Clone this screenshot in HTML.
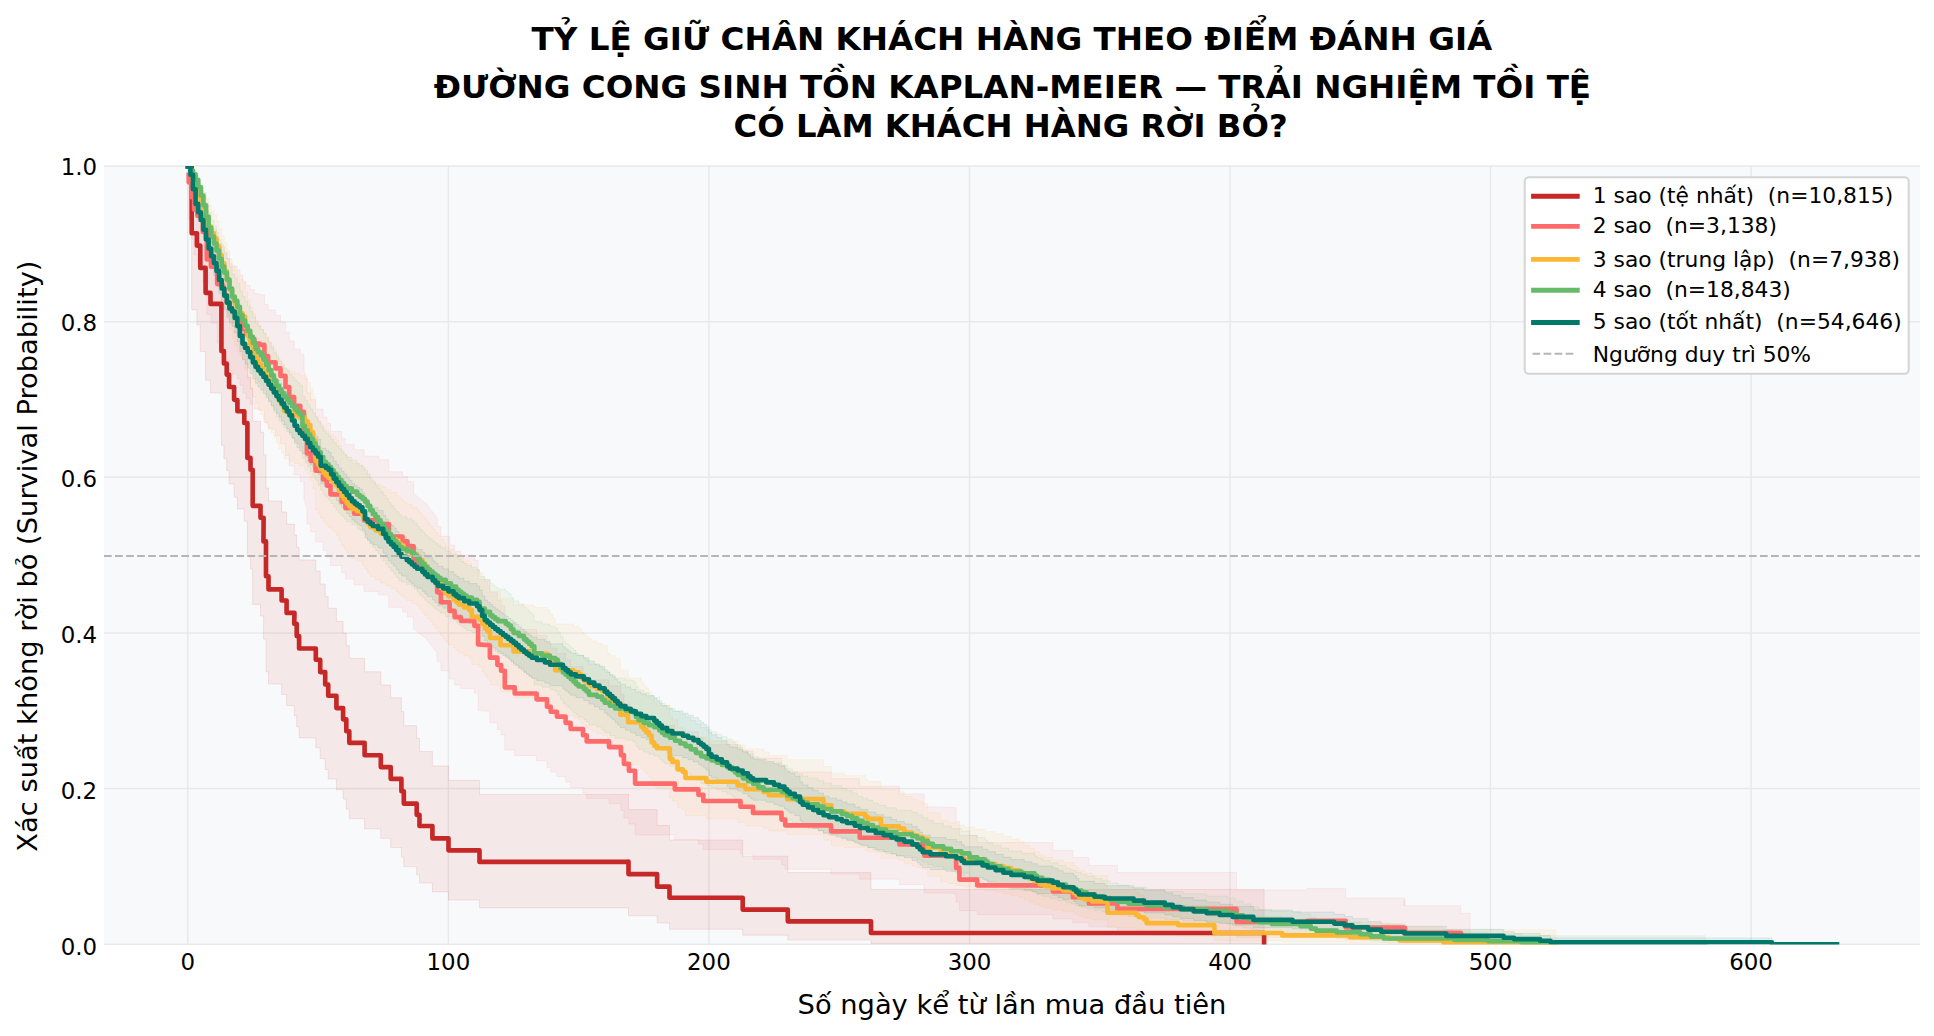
<!DOCTYPE html>
<html lang="vi"><head><meta charset="utf-8"><title>Kaplan-Meier</title>
<style>
html,body{margin:0;padding:0;background:#fff;}
svg{display:block}
text{font-family:"DejaVu Sans","Liberation Sans",sans-serif;fill:#000}
.t{font-weight:bold;text-anchor:middle}
.tk{font-size:22.9px}
.lg{font-size:21.8px;white-space:pre}
.al{font-size:27.3px;text-anchor:middle}
</style></head><body>
<svg width="1934" height="1036" viewBox="0 0 1934 1036">
<rect width="1934" height="1036" fill="#fff"/>
<rect x="104" y="166" width="1816" height="778.3" fill="#f8f9fa"/>
<path d="M187.8 166V944.3M448.4 166V944.3M708.9 166V944.3M969.5 166V944.3M1230.0 166V944.3M1490.5 166V944.3M1751.1 166V944.3M104 944.3H1920M104 788.6H1920M104 633.0H1920M104 477.3H1920M104 321.7H1920M104 166.0H1920" stroke="#e9e9ea" stroke-width="1.5" fill="none"/>
<clipPath id="cp"><rect x="104" y="166" width="1816" height="778.5999999999999"/></clipPath>
<g clip-path="url(#cp)">
<path d="M187.8 166.0L191.7 166.0L191.7 196.5L196.9 196.5L196.9 204.7L200.3 204.7L200.3 220.4L205.6 220.4L205.6 238.7L210.5 238.7L210.5 247.3L221.4 247.3L221.4 285.0L223.9 285.0L223.9 295.3L226.7 295.3L226.7 304.6L229.1 304.6L229.1 315.1L234.1 315.1L234.1 325.8L234.9 326.2L237.4 326.2L237.4 335.9L244.3 335.9L244.3 346.3L247.4 346.3L247.4 377.3L250.5 377.3L250.5 388.0L252.7 388.0L252.7 421.2L260.5 421.2L260.5 432.3L263.6 432.3L263.5 454.7L266.0 454.7L266.0 488.1L268.5 488.1L268.5 500.9L281.6 500.9L281.6 511.9L286.6 511.9L286.6 524.1L294.5 524.1L294.2 534.9L296.7 534.9L296.7 547.3L299.1 547.3L299.1 559.9L315.8 559.9L315.8 571.2L320.2 571.2L320.2 583.9L325.2 583.9L325.2 596.7L328.2 596.7L328.2 608.3L336.4 608.3L336.4 621.4L343.1 621.4L343.1 633.2L346.3 633.2L346.3 645.8L349.3 645.8L349.3 658.4L364.6 658.4L364.6 671.8L380.8 671.8L380.8 684.9L390.7 684.9L390.7 697.8L401.4 697.8L401.4 711.6L403.8 711.6L403.8 725.7L416.7 725.7L416.7 738.5L419.5 738.5L419.5 751.4L432.4 751.4L432.4 766.0L448.5 766.0L448.5 780.3L479.5 780.3L479.5 794.4L628.4 794.4L628.5 794.2L628.5 809.6L657.1 809.6L657.1 825.4L669.5 825.4L669.5 840.0L742.7 840.0L742.7 856.2L787.8 856.2L787.8 872.6L871.0 872.6L871.0 889.5L1264.1 889.6L1264.1 943.4L871.0 943.4L871.0 940.0L787.8 940.0L787.8 935.2L742.7 935.2L742.7 929.2L669.5 929.2L669.5 923.0L657.1 923.0L657.1 915.6L628.5 915.6L628.5 907.7L628.4 907.9L479.5 907.9L479.5 900.1L448.5 900.1L448.5 891.9L432.4 891.9L432.4 883.1L419.5 883.1L419.5 875.0L416.7 875.0L416.7 866.6L403.8 866.6L403.8 857.2L401.4 857.2L401.4 847.5L390.7 847.5L390.7 838.3L380.8 838.3L380.8 828.8L364.6 828.8L364.6 818.7L349.3 818.7L349.3 809.1L346.3 809.1L346.3 799.1L343.1 799.1L343.1 789.7L336.4 789.7L336.4 779.1L328.2 779.1L328.2 769.5L325.2 769.5L325.2 758.7L320.2 758.7L320.2 747.8L315.8 747.8L315.8 737.9L299.1 737.9L299.1 726.8L296.7 726.8L296.7 715.6L294.2 715.6L294.5 705.7L286.6 705.7L286.6 694.4L281.6 694.4L281.6 684.0L268.5 684.0L268.5 671.8L266.0 671.8L266.0 638.9L263.5 638.9L263.6 616.0L260.5 616.0L260.5 604.4L252.7 604.4L252.7 568.7L250.5 568.7L250.5 556.8L247.4 556.8L247.4 521.3L244.3 521.3L244.3 509.0L237.4 509.0L237.4 497.4L234.9 497.4L234.1 496.8L234.1 483.8L229.1 483.8L229.1 470.6L226.7 470.6L226.7 458.6L223.9 458.6L223.9 445.2L221.4 445.2L221.4 393.0L210.5 393.0L210.5 380.3L205.6 380.3L205.6 351.5L200.3 351.5L200.3 324.8L196.9 324.8L196.9 309.7L191.7 309.7L191.7 166.0L187.8 166.0Z" fill="#C62828" fill-opacity="0.08" stroke="#C62828" stroke-opacity="0.1" stroke-width="1"/>
<path d="M188.7 167.7L188.7 170.9L191.7 170.9L191.7 179.2L194.1 179.2L194.1 187.1L197.4 187.1L197.4 191.3L202.8 191.3L202.8 202.8L206.8 202.8L206.8 223.6L211.0 223.6L211.0 229.5L217.2 229.5L217.2 243.5L222.2 243.5L224.3 247.1L224.3 252.9L226.9 252.9L226.9 258.8L229.5 258.8L229.5 263.6L232.1 263.6L232.1 266.3L237.0 266.3L237.0 270.0L240.0 270.0L240.0 275.1L243.0 275.1L243.0 281.1L246.0 281.1L246.0 285.4L250.0 285.4L250.0 289.7L254.4 289.7L254.4 293.8L259.4 293.8L259.4 294.8L264.4 294.8L264.4 304.6L268.1 304.6L268.1 310.0L275.5 310.0L275.5 315.5L280.5 315.5L280.5 322.1L285.5 322.1L285.5 332.1L289.2 332.1L289.2 341.0L294.1 341.0L294.1 348.9L300.3 348.9L300.3 354.5L304.0 354.5L304.0 371.1L306.9 377.8L306.9 392.8L310.6 392.8L310.6 399.7L315.6 399.7L315.6 409.0L323.1 409.0L323.1 417.2L326.8 417.2L326.8 423.1L330.5 423.1L330.5 431.3L341.7 431.3L341.7 438.4L345.4 438.4L345.4 444.3L354.1 444.3L354.1 449.8L364.0 449.8L364.0 456.2L378.9 456.2L378.9 459.8L388.8 459.8L388.8 471.8L402.5 471.8L402.5 476.6L407.4 476.6L407.4 481.4L413.6 481.4L413.6 493.5L426.0 503.3L437.2 517.9L437.2 526.6L440.9 526.6L440.9 536.4L449.6 536.4L449.6 545.1L454.6 545.1L454.6 551.3L460.8 551.3L460.8 555.1L474.4 555.1L474.4 560.1L478.1 560.1L478.1 578.9L489.9 579.7L489.9 592.3L497.4 592.3L497.4 599.9L501.1 599.9L501.1 605.8L504.8 605.8L504.8 623.0L514.7 623.0L514.7 629.4L536.6 629.4L536.6 635.4L547.0 635.4L547.0 643.1L550.7 643.1L550.7 648.3L556.9 648.3L556.9 653.6L565.6 653.6L565.6 660.1L570.6 660.1L570.6 666.7L583.0 666.7L583.0 673.3L586.7 673.3L586.7 679.9L609.0 679.9L609.0 686.0L620.9 686.0L620.9 694.5L623.9 694.5L623.9 703.9L628.9 703.9L628.9 711.4L635.1 711.4L635.1 725.5L674.8 725.5L674.8 731.8L698.4 731.8L698.4 737.8L703.3 737.8L703.3 744.7L740.5 744.7L740.5 751.0L753.0 751.0L753.0 758.0L781.5 758.0L781.5 765.5L785.2 765.5L785.2 772.0L831.1 772.0L831.1 778.7L859.7 778.7L859.7 786.1L899.4 786.1L899.4 793.9L924.2 793.9L924.2 806.9L939.1 806.9L956.1 807.7L956.1 821.5L959.4 821.5L959.4 835.6L977.2 835.6L977.2 842.6L1052.9 842.6L1052.9 850.3L1072.8 850.3L1072.8 857.4L1088.9 857.4L1088.9 865.4L1117.4 865.4L1117.4 872.5L1236.5 872.5L1236.5 889.9L1307.2 889.9L1307.2 888.5L1345.7 888.5L1345.7 897.9L1404.0 897.9L1404.0 905.8L1405.0 898.4L1405.0 905.7L1460.8 905.7L1460.8 913.3L1470.0 913.3L1470.0 943.7L1460.8 943.7L1460.8 942.2L1405.0 942.2L1405.0 940.3L1404.0 942.3L1404.0 940.1L1345.7 940.1L1345.7 936.8L1307.2 936.8L1307.2 937.4L1236.5 937.4L1236.5 930.1L1117.4 930.1L1117.4 926.8L1088.9 926.8L1088.9 922.8L1072.8 922.8L1072.8 919.0L1052.9 919.0L1052.9 914.7L977.2 914.7L977.2 910.7L959.4 910.7L959.4 902.3L956.1 902.3L956.1 893.5L939.1 893.0L924.2 893.0L924.2 884.4L899.4 884.4L899.4 879.2L859.7 879.2L859.7 874.1L831.1 874.1L831.1 869.3L785.2 869.3L785.2 864.7L781.5 864.7L781.5 859.2L753.0 859.2L753.0 854.1L740.5 854.1L740.5 849.4L703.3 849.4L703.3 844.2L698.4 844.2L698.4 839.7L674.8 839.7L674.8 834.9L635.1 834.9L635.1 823.9L628.9 823.9L628.9 817.9L623.9 817.9L623.9 810.4L620.9 810.4L620.9 803.5L609.0 803.5L609.0 798.5L586.7 798.5L586.7 793.0L583.0 793.0L583.0 787.5L570.6 787.5L570.6 782.0L565.6 782.0L565.6 776.5L556.9 776.5L556.9 772.1L550.7 772.1L550.7 767.6L547.0 767.6L547.0 760.9L536.6 760.9L536.6 755.7L514.7 755.7L514.7 750.1L504.8 750.1L504.8 734.9L501.1 734.9L501.1 729.7L497.4 729.7L497.4 722.8L489.9 722.8L489.9 711.3L478.1 710.6L478.1 693.1L474.4 693.1L474.4 688.5L460.8 688.5L460.8 685.0L454.6 685.0L454.6 679.1L449.6 679.1L449.6 670.8L440.9 670.8L440.9 661.4L437.2 661.4L437.2 653.0L426.0 638.7L413.6 629.1L413.6 617.0L407.4 617.0L407.4 612.1L402.5 612.1L402.5 607.3L388.8 607.3L388.8 595.1L378.9 595.1L378.9 591.4L364.0 591.4L364.0 584.8L354.1 584.8L354.1 579.1L345.4 579.1L345.4 572.9L341.7 572.9L341.7 565.5L330.5 565.5L330.5 556.8L326.8 556.8L326.8 550.5L323.1 550.5L323.1 541.8L315.6 541.8L315.6 531.7L310.6 531.7L310.6 524.1L306.9 524.1L306.9 507.6L304.0 500.2L304.0 481.4L300.3 481.4L300.3 474.9L294.1 474.9L294.1 465.8L289.2 465.8L289.2 455.4L285.5 455.4L285.5 443.6L280.5 443.6L280.5 435.7L275.5 435.7L275.5 429.0L268.1 429.0L268.1 422.4L264.4 422.4L264.4 410.3L259.4 410.3L259.4 409.0L254.4 409.0L254.4 404.0L250.0 404.0L250.0 398.6L246.0 398.6L246.0 393.1L243.0 393.1L243.0 385.4L240.0 385.4L240.0 378.8L237.0 378.8L237.0 373.9L232.1 373.9L232.1 370.4L229.5 370.4L229.5 364.0L226.9 364.0L226.9 356.1L224.3 356.1L224.3 348.1L222.2 343.1L217.2 343.1L217.2 323.2L211.0 323.2L211.0 314.6L206.8 314.6L206.8 282.2L202.8 282.2L202.8 262.5L197.4 262.5L197.4 254.7L194.1 254.7L194.1 238.8L191.7 238.8L191.7 219.4L188.7 219.4L188.7 210.8Z" fill="#FF6B6B" fill-opacity="0.08" stroke="#FF6B6B" stroke-opacity="0.1" stroke-width="1"/>
<path d="M191.2 167.8L193.0 167.8L193.0 172.3L195.6 172.3L195.6 177.3L198.2 177.3L198.2 182.2L200.8 182.2L200.8 187.2L203.4 187.2L203.4 192.4L206.0 192.4L206.0 198.8L208.6 198.8L208.6 205.4L211.2 205.4L211.2 210.7L213.9 210.7L213.9 214.9L216.5 214.9L216.5 221.4L219.1 221.4L219.1 229.1L221.7 229.1L221.7 236.0L224.3 236.0L224.3 242.7L226.9 242.7L226.9 250.6L229.5 250.6L229.5 258.8L232.1 258.8L232.1 265.7L234.7 265.7L234.7 271.2L237.3 271.2L237.3 276.5L239.9 276.5L239.9 279.5L242.5 279.5L242.5 282.5L245.1 282.5L245.1 291.8L247.7 291.8L247.7 299.8L250.3 299.8L250.3 307.4L252.9 307.4L252.9 314.2L255.5 314.2L255.5 319.9L258.1 319.9L258.1 325.6L260.8 325.6L260.8 329.5L263.4 329.5L263.4 333.3L266.0 333.3L266.0 337.4L268.6 337.4L268.6 341.5L271.2 341.5L271.2 345.7L273.8 345.7L273.8 350.0L276.4 350.0L276.4 354.9L279.0 354.9L279.0 359.8L281.6 359.8L281.6 363.7L284.2 363.7L284.2 369.2L289.4 369.2L289.4 371.3L294.6 371.3L294.6 373.4L299.8 373.4L299.8 375.5L305.0 375.5L305.0 379.1L307.7 379.1L307.7 382.5L310.3 382.5L310.3 389.1L312.9 389.1L312.9 397.1L315.5 397.1L315.5 416.4L318.1 416.4L318.1 420.4L320.7 420.4L320.7 424.3L323.3 424.3L323.3 428.1L325.9 428.1L325.9 430.6L328.5 430.6L328.5 433.0L331.1 433.0L331.1 435.1L333.7 435.1L333.7 437.2L336.3 437.2L336.3 440.3L338.9 440.3L338.9 445.4L341.5 445.4L341.5 450.4L344.1 450.4L344.1 454.0L346.7 454.0L346.7 457.5L349.3 457.5L349.3 460.5L351.9 460.5L351.9 463.0L357.2 463.0L357.2 465.3L362.4 465.3L362.4 469.4L365.0 469.4L365.0 473.2L367.6 473.2L367.6 477.0L370.2 477.0L370.2 480.8L375.4 480.8L375.4 483.9L380.6 483.9L380.6 486.9L385.8 486.9L385.8 489.8L391.0 489.8L391.0 492.6L396.2 492.6L396.2 495.5L398.8 495.5L398.8 497.7L401.5 497.7L401.5 500.0L404.1 500.0L404.1 502.3L406.7 502.3L406.7 504.6L411.9 504.6L411.9 507.4L417.1 507.4L417.1 510.0L419.7 510.0L419.7 513.1L422.3 513.1L422.3 516.3L424.9 516.3L424.9 519.5L427.5 519.5L427.5 522.8L430.1 522.8L430.1 526.0L432.7 526.0L432.7 529.2L435.3 529.2L435.3 532.5L437.9 532.5L437.9 535.8L440.5 535.8L440.5 539.4L443.1 539.4L443.1 543.0L445.7 543.0L445.7 546.5L448.4 546.5L448.4 549.1L453.6 549.1L453.6 552.4L456.2 552.4L456.2 555.0L458.8 555.0L458.8 557.6L464.0 557.6L464.0 560.6L469.2 560.6L469.2 563.2L471.8 563.2L471.8 569.9L479.6 569.9L479.6 572.6L482.2 572.6L482.2 577.2L484.8 577.2L484.8 581.5L487.4 581.5L487.4 584.8L490.0 584.8L490.0 591.1L500.5 591.1L500.5 598.7L513.5 598.7L513.5 605.0L534.3 605.0L534.3 607.5L547.4 607.5L547.4 610.0L550.0 610.0L550.0 614.0L552.6 614.0L552.6 618.0L555.2 618.0L555.2 624.1L573.4 624.1L573.4 626.3L578.6 626.3L578.6 628.7L581.2 628.7L581.2 632.0L583.8 632.0L583.8 634.9L586.4 634.9L586.4 636.9L589.0 636.9L589.0 638.9L591.7 638.9L591.7 640.9L596.9 640.9L596.9 643.5L602.1 643.5L602.1 645.7L607.3 645.7L607.3 653.3L609.9 653.3L609.9 655.8L615.1 655.8L615.1 658.5L620.3 658.5L620.3 670.2L628.1 670.2L628.1 677.9L641.2 677.9L641.2 682.7L643.8 682.7L643.8 685.8L646.4 685.8L646.4 688.5L649.0 688.5L649.0 691.9L651.6 691.9L651.6 699.3L654.2 699.3L654.2 702.7L656.8 702.7L656.8 705.3L669.8 705.3L669.8 716.5L672.4 716.5L672.4 719.8L677.6 719.8L677.6 727.7L682.8 727.7L682.8 730.2L685.5 730.2L685.5 737.0L706.3 737.0L706.3 741.0L737.6 741.0L737.6 745.0L745.4 745.0L745.4 749.0L763.6 749.0L763.6 752.0L768.8 752.0L768.8 755.5L787.1 755.5L787.1 759.7L823.5 759.7L823.5 766.4L831.4 766.4L831.4 773.2L844.4 773.2L844.4 775.6L865.2 775.6L865.2 779.1L867.8 779.1L867.8 781.4L880.9 781.4L880.9 789.6L899.1 789.6L899.1 791.9L904.3 791.9L904.3 796.4L912.1 796.4L912.1 799.3L917.3 799.3L917.3 801.4L922.6 801.4L922.6 803.5L927.8 803.5L927.8 812.8L940.8 812.8L940.8 820.6L948.6 820.6L948.6 822.8L956.4 822.8L956.4 825.0L964.2 825.0L964.2 827.1L974.7 827.1L974.7 829.4L985.1 829.4L985.1 831.7L995.5 831.7L995.5 834.0L1003.3 834.0L1003.3 836.5L1011.1 836.5L1011.1 839.0L1019.0 839.0L1019.0 841.7L1024.2 841.7L1024.2 845.1L1029.4 845.1L1029.4 848.5L1034.6 848.5L1034.6 851.8L1039.8 851.8L1039.8 855.2L1045.0 855.2L1045.0 857.4L1052.8 857.4L1052.8 860.0L1063.2 860.0L1063.2 862.6L1073.7 862.6L1073.7 865.4L1076.3 865.4L1076.3 868.0L1078.9 868.0L1078.9 870.6L1084.1 870.6L1084.1 873.1L1091.9 873.1L1091.9 875.6L1107.5 875.6L1107.5 889.5L1136.2 889.5L1136.2 892.7L1138.8 892.7L1138.8 895.3L1144.0 895.3L1144.0 898.0L1146.6 898.0L1146.6 902.9L1177.9 902.9L1177.9 905.5L1214.4 905.5L1214.4 916.3L1282.1 916.3L1282.1 919.7L1349.9 919.7L1349.9 922.3L1388.9 922.3L1388.9 924.6L1399.4 924.6L1399.4 926.9L1443.7 926.9L1443.7 929.8L1555.8 929.8L1555.8 944.3L1443.7 944.3L1443.7 943.8L1399.4 943.8L1399.4 943.3L1388.9 943.3L1388.9 942.7L1349.9 942.7L1349.9 941.9L1282.1 941.9L1282.1 940.7L1214.4 940.7L1214.4 936.2L1177.9 936.2L1177.9 935.0L1146.6 935.0L1146.6 932.5L1144.0 932.5L1144.0 931.1L1138.8 931.1L1138.8 929.7L1136.2 929.7L1136.2 928.0L1107.5 928.0L1107.5 919.8L1091.9 919.8L1091.9 918.3L1084.1 918.3L1084.1 916.7L1078.9 916.7L1078.9 915.0L1076.3 915.0L1076.3 913.4L1073.7 913.4L1073.7 911.5L1063.2 911.5L1063.2 909.9L1052.8 909.9L1052.8 908.1L1045.0 908.1L1045.0 906.7L1039.8 906.7L1039.8 904.4L1034.6 904.4L1034.6 902.1L1029.4 902.1L1029.4 899.7L1024.2 899.7L1024.2 897.4L1019.0 897.4L1019.0 895.4L1011.1 895.4L1011.1 893.7L1003.3 893.7L1003.3 891.9L995.5 891.9L995.5 890.3L985.1 890.3L985.1 888.6L974.7 888.6L974.7 886.9L964.2 886.9L964.2 885.4L956.4 885.4L956.4 883.7L948.6 883.7L948.6 882.1L940.8 882.1L940.8 876.3L927.8 876.3L927.8 869.3L922.6 869.3L922.6 867.6L917.3 867.6L917.3 866.0L912.1 866.0L912.1 863.8L904.3 863.8L904.3 860.2L899.1 860.2L899.1 858.5L880.9 858.5L880.9 852.0L867.8 852.0L867.8 850.2L865.2 850.2L865.2 847.4L844.4 847.4L844.4 845.5L831.4 845.5L831.4 840.0L823.5 840.0L823.5 834.5L787.1 834.5L787.1 831.1L768.8 831.1L768.8 828.2L763.6 828.2L763.6 825.7L745.4 825.7L745.4 822.4L737.6 822.4L737.6 819.0L706.3 819.0L706.3 815.7L685.5 815.7L685.5 810.0L682.8 810.0L682.8 807.9L677.6 807.9L677.6 801.1L672.4 801.1L672.4 798.3L669.8 798.3L669.8 788.7L656.8 788.7L656.8 786.4L654.2 786.4L654.2 783.5L651.6 783.5L651.6 777.0L649.0 777.0L649.0 774.0L646.4 774.0L646.4 771.6L643.8 771.6L643.8 768.9L641.2 768.9L641.2 764.6L628.1 764.6L628.1 757.7L620.3 757.7L620.3 747.3L615.1 747.3L615.1 744.8L609.9 744.8L609.9 742.6L607.3 742.6L607.3 735.6L602.1 735.6L602.1 733.7L596.9 733.7L596.9 731.3L591.7 731.3L591.7 729.5L589.0 729.5L589.0 727.6L586.4 727.6L586.4 725.8L583.8 725.8L583.8 723.2L581.2 723.2L581.2 720.1L578.6 720.1L578.6 717.9L573.4 717.9L573.4 715.9L555.2 715.9L555.2 710.2L552.6 710.2L552.6 706.5L550.0 706.5L550.0 702.8L547.4 702.8L547.4 700.4L534.3 700.4L534.3 698.0L513.5 698.0L513.5 692.1L500.5 692.1L500.5 685.0L490.0 685.0L490.0 679.0L487.4 679.0L487.4 675.9L484.8 675.9L484.8 671.7L482.2 671.7L482.2 667.3L479.6 667.3L479.6 664.7L471.8 664.7L471.8 658.3L469.2 658.3L469.2 655.8L464.0 655.8L464.0 652.9L458.8 652.9L458.8 650.4L456.2 650.4L456.2 647.9L453.6 647.9L453.6 644.7L448.4 644.7L448.4 642.2L445.7 642.2L445.7 638.7L443.1 638.7L443.1 635.2L440.5 635.2L440.5 631.7L437.9 631.7L437.9 628.4L435.3 628.4L435.3 625.2L432.7 625.2L432.7 622.0L430.1 622.0L430.1 618.8L427.5 618.8L427.5 615.6L424.9 615.6L424.9 612.4L422.3 612.4L422.3 609.2L419.7 609.2L419.7 606.2L417.1 606.2L417.1 603.6L411.9 603.6L411.9 600.8L406.7 600.8L406.7 598.5L404.1 598.5L404.1 596.2L401.5 596.2L401.5 593.9L398.8 593.9L398.8 591.6L396.2 591.6L396.2 588.8L391.0 588.8L391.0 585.9L385.8 585.9L385.8 583.0L380.6 583.0L380.6 579.9L375.4 579.9L375.4 576.8L370.2 576.8L370.2 572.9L367.6 572.9L367.6 569.0L365.0 569.0L365.0 565.1L362.4 565.1L362.4 560.9L357.2 560.9L357.2 558.6L351.9 558.6L351.9 556.0L349.3 556.0L349.3 552.9L346.7 552.9L346.7 549.3L344.1 549.3L344.1 545.6L341.5 545.6L341.5 540.3L338.9 540.3L338.9 535.1L336.3 535.1L336.3 531.8L333.7 531.8L333.7 529.6L331.1 529.6L331.1 527.4L328.5 527.4L328.5 524.9L325.9 524.9L325.9 522.2L323.3 522.2L323.3 518.2L320.7 518.2L320.7 514.1L318.1 514.1L318.1 509.9L315.5 509.9L315.5 489.2L312.9 489.2L312.9 480.5L310.3 480.5L310.3 473.4L307.7 473.4L307.7 469.7L305.0 469.7L305.0 465.7L299.8 465.7L299.8 463.4L294.6 463.4L294.6 461.1L289.4 461.1L289.4 458.8L284.2 458.8L284.2 452.8L281.6 452.8L281.6 448.4L279.0 448.4L279.0 442.9L276.4 442.9L276.4 437.5L273.8 437.5L273.8 432.6L271.2 432.6L271.2 427.9L268.6 427.9L268.6 423.2L266.0 423.2L266.0 418.7L263.4 418.7L263.4 414.3L260.8 414.3L260.8 409.9L258.1 409.9L258.1 403.3L255.5 403.3L255.5 396.7L252.9 396.7L252.9 388.7L250.3 388.7L250.3 379.8L247.7 379.8L247.7 370.2L245.1 370.2L245.1 359.2L242.5 359.2L242.5 355.5L239.9 355.5L239.9 351.8L237.3 351.8L237.3 345.3L234.7 345.3L234.7 338.5L232.1 338.5L232.1 329.9L229.5 329.9L229.5 319.6L226.9 319.6L226.9 309.4L224.3 309.4L224.3 300.6L221.7 300.6L221.7 291.5L219.1 291.5L219.1 281.1L216.5 281.1L216.5 272.1L213.9 272.1L213.9 266.0L211.2 266.0L211.2 258.4L208.6 258.4L208.6 248.6L206.0 248.6L206.0 238.7L203.4 238.7L203.4 230.2L200.8 230.2L200.8 221.6L198.2 221.6L198.2 212.6L195.6 212.6L195.6 202.4L193.0 202.4L193.0 191.3L191.2 191.3Z" fill="#FBB733" fill-opacity="0.08" stroke="#FBB733" stroke-opacity="0.1" stroke-width="1"/>
<path d="M191.2 167.5L193.0 167.5L193.0 169.6L195.6 169.6L195.6 173.3L198.2 173.3L198.2 178.6L200.8 178.6L200.8 185.2L203.4 185.2L203.4 193.2L206.0 193.2L206.0 202.7L208.6 202.7L208.6 212.4L211.2 212.4L211.2 220.0L213.9 220.0L213.9 226.1L216.5 226.1L216.5 232.3L219.1 232.3L219.1 239.6L221.7 239.6L221.7 246.7L224.3 246.7L224.3 252.2L226.9 252.2L226.9 258.4L229.5 258.4L229.5 266.7L232.1 266.7L232.1 274.1L234.7 274.1L234.7 277.9L237.3 277.9L237.3 283.5L239.9 283.5L239.9 291.3L242.5 291.3L242.5 296.3L245.1 296.3L245.1 301.2L247.7 301.2L247.7 305.9L250.3 305.9L250.3 311.4L252.9 311.4L252.9 317.1L255.5 317.1L255.5 322.9L258.1 322.9L258.1 325.9L260.8 325.9L260.8 328.9L263.4 328.9L263.4 333.0L266.0 333.0L266.0 337.9L268.6 337.9L268.6 342.8L271.2 342.8L271.2 347.8L273.8 347.8L273.8 352.8L276.4 352.8L276.4 357.7L279.0 357.7L279.0 361.4L281.6 361.4L281.6 364.9L284.2 364.9L284.2 368.1L286.8 368.1L286.8 371.1L289.4 371.1L289.4 374.1L292.0 374.1L292.0 377.3L294.6 377.3L294.6 380.3L297.2 380.3L297.2 382.8L299.8 382.8L299.8 385.3L302.4 385.3L302.4 396.3L305.0 396.3L305.0 400.5L307.7 400.5L307.7 404.7L310.3 404.7L310.3 408.9L312.9 408.9L312.9 413.1L315.5 413.1L315.5 417.3L318.1 417.3L318.1 421.9L320.7 421.9L320.7 426.5L323.3 426.5L323.3 431.0L325.9 431.0L325.9 433.5L328.5 433.5L328.5 436.2L331.1 436.2L331.1 439.5L333.7 439.5L333.7 442.7L336.3 442.7L336.3 446.0L338.9 446.0L338.9 449.0L341.5 449.0L341.5 451.9L344.1 451.9L344.1 454.8L346.7 454.8L346.7 457.0L351.9 457.0L351.9 460.2L357.2 460.2L357.2 463.5L359.8 463.5L359.8 465.4L362.4 465.4L362.4 467.2L365.0 467.2L365.0 470.0L367.6 470.0L367.6 474.3L370.2 474.3L370.2 478.5L372.8 478.5L372.8 482.2L375.4 482.2L375.4 485.3L378.0 485.3L378.0 488.4L380.6 488.4L380.6 491.8L383.2 491.8L383.2 495.3L385.8 495.3L385.8 498.7L388.4 498.7L388.4 502.1L391.0 502.1L391.0 505.6L393.6 505.6L393.6 508.8L396.2 508.8L396.2 511.8L398.8 511.8L398.8 514.8L401.5 514.8L401.5 516.7L406.7 516.7L406.7 518.8L411.9 518.8L411.9 520.8L414.5 520.8L414.5 523.5L417.1 523.5L417.1 526.5L419.7 526.5L419.7 529.6L422.3 529.6L422.3 532.2L424.9 532.2L424.9 534.8L427.5 534.8L427.5 537.3L430.1 537.3L430.1 539.4L432.7 539.4L432.7 541.5L435.3 541.5L435.3 543.6L437.9 543.6L437.9 545.6L440.5 545.6L440.5 547.6L445.7 547.6L445.7 551.1L451.0 551.1L451.0 554.4L456.2 554.4L456.2 557.6L458.8 557.6L458.8 559.5L461.4 559.5L461.4 561.5L464.0 561.5L464.0 563.4L466.6 563.4L466.6 565.4L471.8 565.4L471.8 567.6L477.0 567.6L477.0 569.7L479.6 569.7L479.6 576.4L484.8 576.4L484.8 579.7L490.0 579.7L490.0 583.2L492.6 583.2L492.6 585.1L495.2 585.1L495.2 587.1L497.9 587.1L497.9 589.1L505.7 589.1L505.7 591.6L508.3 591.6L508.3 593.6L510.9 593.6L510.9 597.3L513.5 597.3L513.5 600.9L518.7 600.9L518.7 603.9L523.9 603.9L523.9 607.5L526.5 607.5L526.5 609.8L529.1 609.8L529.1 612.1L531.7 612.1L531.7 614.4L534.3 614.4L534.3 621.7L542.1 621.7L542.1 624.0L550.0 624.0L550.0 626.4L555.2 626.4L555.2 628.4L557.8 628.4L557.8 632.2L560.4 632.2L560.4 636.7L563.0 636.7L563.0 641.1L565.6 641.1L565.6 643.4L568.2 643.4L568.2 645.7L570.8 645.7L570.8 648.0L573.4 648.0L573.4 650.5L576.0 650.5L576.0 653.2L578.6 653.2L578.6 655.5L583.8 655.5L583.8 658.2L586.4 658.2L586.4 660.4L589.0 660.4L589.0 664.0L596.9 664.0L596.9 665.8L602.1 665.8L602.1 669.1L604.7 669.1L604.7 672.1L609.9 672.1L609.9 675.2L615.1 675.2L615.1 678.1L625.5 678.1L625.5 680.0L633.3 680.0L633.3 682.1L635.9 682.1L635.9 686.8L638.6 686.8L638.6 690.1L643.8 690.1L643.8 692.8L649.0 692.8L649.0 695.3L654.2 695.3L654.2 697.4L659.4 697.4L659.4 700.7L662.0 700.7L662.0 703.4L664.6 703.4L664.6 705.6L669.8 705.6L669.8 708.3L675.0 708.3L675.0 711.4L680.2 711.4L680.2 714.3L685.5 714.3L685.5 717.0L690.7 717.0L690.7 720.4L695.9 720.4L695.9 724.0L701.1 724.0L701.1 727.6L706.3 727.6L706.3 729.7L711.5 729.7L711.5 731.8L716.7 731.8L716.7 734.2L721.9 734.2L721.9 736.6L727.1 736.6L727.1 739.1L732.3 739.1L732.3 741.8L735.0 741.8L735.0 744.6L737.6 744.6L737.6 747.0L742.8 747.0L742.8 750.7L748.0 750.7L748.0 753.7L753.2 753.7L753.2 756.7L758.4 756.7L758.4 760.3L763.6 760.3L763.6 762.9L781.9 762.9L781.9 765.1L787.1 765.1L787.1 768.7L792.3 768.7L792.3 771.6L797.5 771.6L797.5 773.9L802.7 773.9L802.7 776.3L807.9 776.3L807.9 778.3L818.3 778.3L818.3 780.5L823.5 780.5L823.5 783.2L831.4 783.2L831.4 785.6L841.8 785.6L841.8 788.5L847.0 788.5L847.0 790.6L852.2 790.6L852.2 793.2L857.4 793.2L857.4 796.0L862.6 796.0L862.6 798.2L867.8 798.2L867.8 800.3L873.0 800.3L873.0 803.0L878.3 803.0L878.3 805.3L886.1 805.3L886.1 807.8L896.5 807.8L896.5 810.3L912.1 810.3L912.1 812.4L917.3 812.4L917.3 814.8L922.6 814.8L922.6 817.7L927.8 817.7L927.8 820.5L933.0 820.5L933.0 823.3L943.4 823.3L943.4 826.1L951.2 826.1L951.2 828.6L961.6 828.6L961.6 831.1L969.5 831.1L969.5 835.3L977.3 835.3L977.3 837.4L985.1 837.4L985.1 840.0L987.7 840.0L987.7 842.8L992.9 842.8L992.9 845.2L1000.7 845.2L1000.7 848.1L1008.5 848.1L1008.5 851.0L1021.6 851.0L1021.6 853.1L1034.6 853.1L1034.6 855.9L1037.2 855.9L1037.2 858.0L1042.4 858.0L1042.4 860.2L1050.2 860.2L1050.2 862.8L1058.0 862.8L1058.0 865.4L1065.9 865.4L1065.9 868.2L1071.1 868.2L1071.1 870.3L1076.3 870.3L1076.3 872.4L1081.5 872.4L1081.5 874.4L1086.7 874.4L1086.7 876.5L1094.5 876.5L1094.5 878.7L1102.3 878.7L1102.3 880.8L1110.1 880.8L1110.1 882.9L1118.0 882.9L1118.0 885.0L1128.4 885.0L1128.4 887.2L1146.6 887.2L1146.6 889.3L1164.9 889.3L1164.9 891.5L1183.1 891.5L1183.1 893.8L1206.6 893.8L1206.6 896.0L1227.4 896.0L1227.4 898.2L1235.2 898.2L1235.2 901.0L1243.0 901.0L1243.0 903.9L1250.8 903.9L1250.8 906.8L1258.7 906.8L1258.7 909.3L1271.7 909.3L1271.7 911.5L1300.3 911.5L1300.3 914.0L1310.8 914.0L1310.8 917.2L1316.0 917.2L1316.0 919.7L1336.8 919.7L1336.8 922.1L1360.3 922.1L1360.3 924.5L1370.7 924.5L1370.7 927.2L1383.7 927.2L1383.7 930.2L1454.1 930.2L1454.1 932.1L1487.9 932.1L1487.9 933.9L1521.8 933.9L1521.8 935.8L1705.0 935.8L1705.0 944.0L1521.8 944.0L1521.8 943.6L1487.9 943.6L1487.9 943.0L1454.1 943.0L1454.1 942.3L1383.7 942.3L1383.7 941.1L1370.7 941.1L1370.7 939.8L1360.3 939.8L1360.3 938.6L1336.8 938.6L1336.8 937.3L1316.0 937.3L1316.0 936.0L1310.8 936.0L1310.8 934.2L1300.3 934.2L1300.3 932.7L1271.7 932.7L1271.7 931.3L1258.7 931.3L1258.7 929.7L1250.8 929.7L1250.8 927.9L1243.0 927.9L1243.0 926.0L1235.2 926.0L1235.2 924.1L1227.4 924.1L1227.4 922.6L1206.6 922.6L1206.6 921.1L1183.1 921.1L1183.1 919.5L1164.9 919.5L1164.9 918.0L1146.6 918.0L1146.6 916.5L1128.4 916.5L1128.4 914.9L1118.0 914.9L1118.0 913.4L1110.1 913.4L1110.1 911.9L1102.3 911.9L1102.3 910.3L1094.5 910.3L1094.5 908.7L1086.7 908.7L1086.7 907.2L1081.5 907.2L1081.5 905.6L1076.3 905.6L1076.3 904.1L1071.1 904.1L1071.1 902.5L1065.9 902.5L1065.9 900.4L1058.0 900.4L1058.0 898.4L1050.2 898.4L1050.2 896.3L1042.4 896.3L1042.4 894.7L1037.2 894.7L1037.2 893.0L1034.6 893.0L1034.6 890.8L1021.6 890.8L1021.6 889.2L1008.5 889.2L1008.5 886.9L1000.7 886.9L1000.7 884.6L992.9 884.6L992.9 882.7L987.7 882.7L987.7 880.4L985.1 880.4L985.1 878.3L977.3 878.3L977.3 876.6L969.5 876.6L969.5 873.2L961.6 873.2L961.6 871.1L951.2 871.1L951.2 869.1L943.4 869.1L943.4 866.8L933.0 866.8L933.0 864.5L927.8 864.5L927.8 862.1L922.6 862.1L922.6 859.8L917.3 859.8L917.3 857.7L912.1 857.7L912.1 855.9L896.5 855.9L896.5 853.8L886.1 853.8L886.1 851.7L878.3 851.7L878.3 849.8L873.0 849.8L873.0 847.5L867.8 847.5L867.8 845.7L862.6 845.7L862.6 843.8L857.4 843.8L857.4 841.4L852.2 841.4L852.2 839.2L847.0 839.2L847.0 837.4L841.8 837.4L841.8 835.0L831.4 835.0L831.4 832.8L823.5 832.8L823.5 830.5L818.3 830.5L818.3 828.6L807.9 828.6L807.9 826.9L802.7 826.9L802.7 824.8L797.5 824.8L797.5 822.7L792.3 822.7L792.3 820.3L787.1 820.3L787.1 817.0L781.9 817.0L781.9 815.1L763.6 815.1L763.6 812.9L758.4 812.9L758.4 809.7L753.2 809.7L753.2 807.0L748.0 807.0L748.0 804.3L742.8 804.3L742.8 801.1L737.6 801.1L737.6 798.9L735.0 798.9L735.0 796.4L732.3 796.4L732.3 794.0L727.1 794.0L727.1 791.8L721.9 791.8L721.9 789.6L716.7 789.6L716.7 787.5L711.5 787.5L711.5 785.6L706.3 785.6L706.3 783.7L701.1 783.7L701.1 780.4L695.9 780.4L695.9 777.1L690.7 777.1L690.7 774.1L685.5 774.1L685.5 771.6L680.2 771.6L680.2 769.0L675.0 769.0L675.0 766.1L669.8 766.1L669.8 763.6L664.6 763.6L664.6 761.7L662.0 761.7L662.0 759.2L659.4 759.2L659.4 756.1L654.2 756.1L654.2 754.2L649.0 754.2L649.0 751.9L643.8 751.9L643.8 749.5L638.6 749.5L638.6 746.4L635.9 746.4L635.9 742.0L633.3 742.0L633.3 740.1L625.5 740.1L625.5 738.3L615.1 738.3L615.1 735.6L609.9 735.6L609.9 732.7L604.7 732.7L604.7 729.9L602.1 729.9L602.1 726.8L596.9 726.8L596.9 725.1L589.0 725.1L589.0 721.8L586.4 721.8L586.4 719.7L583.8 719.7L583.8 717.2L578.6 717.2L578.6 715.0L576.0 715.0L576.0 712.5L573.4 712.5L573.4 710.1L570.8 710.1L570.8 707.9L568.2 707.9L568.2 705.8L565.6 705.8L565.6 703.5L563.0 703.5L563.0 699.3L560.4 699.3L560.4 695.1L557.8 695.1L557.8 691.5L555.2 691.5L555.2 689.6L550.0 689.6L550.0 687.3L542.1 687.3L542.1 685.0L534.3 685.0L534.3 678.1L531.7 678.1L531.7 675.9L529.1 675.9L529.1 673.7L526.5 673.7L526.5 671.4L523.9 671.4L523.9 668.0L518.7 668.0L518.7 665.1L513.5 665.1L513.5 661.6L510.9 661.6L510.9 658.0L508.3 658.0L508.3 656.1L505.7 656.1L505.7 653.6L497.9 653.6L497.9 651.7L495.2 651.7L495.2 649.8L492.6 649.8L492.6 647.9L490.0 647.9L490.0 644.5L484.8 644.5L484.8 641.3L479.6 641.3L479.6 634.7L477.0 634.7L477.0 632.7L471.8 632.7L471.8 630.5L466.6 630.5L466.6 628.6L464.0 628.6L464.0 626.7L461.4 626.7L461.4 624.7L458.8 624.7L458.8 622.9L456.2 622.9L456.2 619.7L451.0 619.7L451.0 616.4L445.7 616.4L445.7 613.0L440.5 613.0L440.5 611.1L437.9 611.1L437.9 609.0L435.3 609.0L435.3 606.9L432.7 606.9L432.7 604.9L430.1 604.9L430.1 602.8L427.5 602.8L427.5 600.3L424.9 600.3L424.9 597.7L422.3 597.7L422.3 595.1L419.7 595.1L419.7 592.1L417.1 592.1L417.1 589.1L414.5 589.1L414.5 586.4L411.9 586.4L411.9 584.3L406.7 584.3L406.7 582.2L401.5 582.2L401.5 580.4L398.8 580.4L398.8 577.4L396.2 577.4L396.2 574.3L393.6 574.3L393.6 571.1L391.0 571.1L391.0 567.6L388.4 567.6L388.4 564.1L385.8 564.1L385.8 560.6L383.2 560.6L383.2 557.2L380.6 557.2L380.6 553.7L378.0 553.7L378.0 550.5L375.4 550.5L375.4 547.4L372.8 547.4L372.8 543.7L370.2 543.7L370.2 539.3L367.6 539.3L367.6 534.9L365.0 534.9L365.0 532.1L362.4 532.1L362.4 530.2L359.8 530.2L359.8 528.3L357.2 528.3L357.2 524.9L351.9 524.9L351.9 521.6L346.7 521.6L346.7 519.3L344.1 519.3L344.1 516.3L341.5 516.3L341.5 513.3L338.9 513.3L338.9 510.3L336.3 510.3L336.3 506.9L333.7 506.9L333.7 503.5L331.1 503.5L331.1 500.1L328.5 500.1L328.5 497.3L325.9 497.3L325.9 494.6L323.3 494.6L323.3 490.0L320.7 490.0L320.7 485.2L318.1 485.2L318.1 480.3L315.5 480.3L315.5 475.9L312.9 475.9L312.9 471.5L310.3 471.5L310.3 467.0L307.7 467.0L307.7 462.6L305.0 462.6L305.0 458.2L302.4 458.2L302.4 446.5L299.8 446.5L299.8 443.8L297.2 443.8L297.2 441.1L294.6 441.1L294.6 437.9L292.0 437.9L292.0 434.6L289.4 434.6L289.4 431.3L286.8 431.3L286.8 428.1L284.2 428.1L284.2 424.6L281.6 424.6L281.6 420.8L279.0 420.8L279.0 416.9L276.4 416.9L276.4 411.5L273.8 411.5L273.8 406.1L271.2 406.1L271.2 400.6L268.6 400.6L268.6 395.2L266.0 395.2L266.0 389.8L263.4 389.8L263.4 385.2L260.8 385.2L260.8 382.0L258.1 382.0L258.1 378.6L255.5 378.6L255.5 372.2L252.9 372.2L252.9 365.9L250.3 365.9L250.3 359.7L247.7 359.7L247.7 354.3L245.1 354.3L245.1 348.8L242.5 348.8L242.5 343.1L239.9 343.1L239.9 334.2L237.3 334.2L237.3 327.7L234.7 327.7L234.7 323.3L232.1 323.3L232.1 314.7L229.5 314.7L229.5 305.0L226.9 305.0L226.9 297.6L224.3 297.6L224.3 291.0L221.7 291.0L221.7 282.4L219.1 282.4L219.1 273.4L216.5 273.4L216.5 265.7L213.9 265.7L213.9 258.0L211.2 258.0L211.2 248.3L208.6 248.3L208.6 235.5L206.0 235.5L206.0 222.5L203.4 222.5L203.4 211.0L200.8 211.0L200.8 200.7L198.2 200.7L198.2 191.7L195.6 191.7L195.6 184.5L193.0 184.5L193.0 179.6L191.2 179.6Z" fill="#66BB6A" fill-opacity="0.08" stroke="#66BB6A" stroke-opacity="0.1" stroke-width="1"/>
<path d="M187.8 166.0L190.4 166.0L190.4 171.6L193.0 171.6L193.0 183.7L195.6 183.7L195.6 196.8L198.2 196.8L198.2 204.3L200.8 204.3L200.8 211.5L203.4 211.5L203.4 220.4L206.0 220.4L206.0 229.5L208.6 229.5L208.6 238.1L211.2 238.1L211.2 245.2L213.9 245.2L213.9 251.6L216.5 251.6L216.5 259.1L219.1 259.1L219.1 267.8L221.7 267.8L221.7 275.8L224.3 275.8L224.3 282.6L226.9 282.6L226.9 289.4L229.5 289.4L229.5 294.9L232.1 294.9L232.1 297.9L234.7 297.9L234.7 304.1L237.3 304.1L237.3 312.0L239.9 312.0L239.9 321.4L242.5 321.4L242.5 328.9L245.1 328.9L245.1 333.1L247.7 333.1L247.7 337.0L250.3 337.0L250.3 342.0L252.9 342.0L252.9 347.1L255.5 347.1L255.5 351.4L258.1 351.4L258.1 354.8L260.8 354.8L260.8 357.9L263.4 357.9L263.4 361.2L266.0 361.2L266.0 365.0L268.6 365.0L268.6 368.8L271.2 368.8L271.2 372.6L273.8 372.6L273.8 376.3L276.4 376.3L276.4 379.9L279.0 379.9L279.0 383.5L281.6 383.5L281.6 387.3L284.2 387.3L284.2 391.1L286.8 391.1L286.8 394.9L289.4 394.9L289.4 398.8L292.0 398.8L292.0 403.8L294.6 403.8L294.6 408.9L297.2 408.9L297.2 413.2L299.8 413.2L299.8 416.3L302.4 416.3L302.4 418.9L305.0 418.9L305.0 421.8L307.7 421.8L307.7 426.0L310.3 426.0L310.3 430.1L312.9 430.1L312.9 433.2L315.5 433.2L315.5 436.2L318.1 436.2L318.1 439.5L320.7 439.5L320.7 448.3L325.9 448.3L325.9 450.5L328.5 450.5L328.5 452.3L331.1 452.3L331.1 456.8L333.7 456.8L333.7 461.0L336.3 461.0L336.3 464.7L338.9 464.6L338.9 468.2L341.5 468.2L341.5 471.3L344.1 471.2L344.1 474.2L346.7 474.2L346.7 477.2L349.3 477.2L349.3 480.3L351.9 480.3L351.9 483.4L354.6 483.3L354.6 485.6L357.2 485.5L357.2 487.4L359.8 487.3L359.8 489.2L362.4 489.2L362.4 493.1L365.0 493.1L365.0 500.8L367.6 500.8L367.6 503.4L370.2 503.3L370.2 505.5L372.8 505.5L372.8 507.6L378.0 507.5L378.0 510.5L383.2 510.4L383.2 515.3L385.8 515.3L385.8 519.4L388.4 519.4L388.4 523.0L391.0 523.0L391.0 525.6L393.6 525.5L393.6 528.1L396.2 528.1L396.2 531.3L398.8 531.3L398.8 535.2L401.5 535.1L401.5 537.8L406.7 537.7L406.7 541.2L409.3 541.1L409.3 543.2L411.9 543.2L411.9 545.4L414.5 545.4L414.5 547.6L417.1 547.6L417.1 549.5L422.3 549.5L422.3 552.6L424.9 552.6L424.9 555.2L427.5 555.1L427.5 557.6L432.7 557.6L432.7 561.0L435.3 561.0L435.3 563.3L437.9 563.3L437.9 566.4L443.1 566.3L443.1 568.9L448.4 568.8L448.4 571.7L453.6 571.6L453.6 574.7L456.2 574.6L456.2 576.6L458.8 576.5L458.8 578.4L464.0 578.3L464.0 581.3L469.2 581.2L469.2 583.6L477.0 583.5L477.0 586.2L479.6 586.1L479.6 590.0L482.2 590.0L482.2 595.9L484.8 595.8L484.8 600.1L487.4 600.1L487.4 602.4L490.0 602.3L490.0 604.6L492.6 604.6L492.6 606.9L495.2 606.8L495.2 608.9L497.9 608.9L497.9 610.8L500.5 610.8L500.5 612.8L503.1 612.7L503.1 614.7L505.7 614.6L505.7 616.6L508.3 616.6L508.3 618.5L510.9 618.5L510.9 620.5L513.5 620.4L513.5 622.4L516.1 622.3L516.1 624.6L518.7 624.6L518.7 626.9L521.3 626.8L521.3 629.2L523.9 629.1L523.9 631.3L526.5 631.3L526.5 633.3L529.1 633.2L529.1 635.2L531.7 635.1L531.7 637.1L536.9 637.0L536.9 639.3L544.8 639.2L544.8 641.5L550.0 641.4L550.0 643.9L563.0 643.6L563.0 646.9L565.6 646.9L565.6 649.0L568.2 648.9L568.2 651.0L570.8 651.0L570.8 653.1L576.0 653.0L576.0 655.2L583.8 655.0L583.8 657.9L589.0 657.8L589.0 661.1L594.3 661.0L594.3 664.1L599.5 664.0L599.5 666.7L604.7 666.5L604.7 669.9L607.3 669.9L607.3 672.2L609.9 672.1L609.9 674.5L612.5 674.4L612.5 676.7L615.1 676.7L615.1 679.3L617.7 679.2L617.7 681.9L620.3 681.8L620.3 684.4L625.5 684.3L625.5 686.9L630.7 686.8L630.7 689.5L635.9 689.3L635.9 692.0L641.2 691.9L641.2 694.1L646.4 693.9L646.4 695.9L654.2 695.7L654.2 698.4L656.8 698.3L656.8 700.9L659.4 700.8L659.4 703.3L662.0 703.2L662.0 705.8L667.2 705.6L667.2 708.8L672.4 708.5L672.4 710.9L682.8 710.9L682.8 713.2L688.1 713.2L688.1 715.2L693.3 715.2L693.3 717.7L698.5 717.7L698.5 720.4L701.1 720.4L701.1 722.3L703.7 722.3L703.7 724.5L706.3 724.5L706.3 726.8L708.9 726.8L708.9 732.3L711.5 732.3L711.5 734.8L716.7 734.8L716.7 737.5L721.9 737.5L721.9 740.7L727.1 740.7L727.1 744.4L729.7 744.4L729.7 747.1L737.6 747.1L737.6 749.1L742.8 749.1L742.8 752.0L748.0 752.0L748.0 755.3L750.6 755.3L750.6 757.3L753.2 757.3L753.2 759.2L766.2 759.2L766.2 761.5L774.0 761.5L774.0 763.9L779.2 763.9L779.2 766.0L784.5 766.0L784.5 768.9L787.1 768.9L787.1 771.1L789.7 771.1L789.7 773.4L794.9 773.4L794.9 776.3L800.1 776.3L800.1 782.1L802.7 782.1L802.7 784.9L807.9 784.9L807.9 787.7L813.1 787.7L813.1 790.4L818.3 790.4L818.3 793.1L823.5 793.1L823.5 795.9L828.8 795.9L828.8 797.9L836.6 797.9L836.6 800.1L841.8 800.1L841.8 802.1L847.0 802.1L847.0 804.1L854.8 804.1L854.8 807.0L860.0 807.0L860.0 809.4L867.8 809.4L867.8 812.1L875.7 812.1L875.7 814.7L883.5 814.7L883.5 817.0L891.3 817.0L891.3 819.5L896.5 819.5L896.5 821.6L904.3 821.6L904.3 823.9L912.1 823.9L912.1 826.7L917.3 826.7L917.3 829.5L919.9 829.5L919.9 832.3L922.6 832.3L922.6 835.1L930.4 835.1L930.4 837.5L946.0 837.5L946.0 839.5L956.4 839.5L956.4 841.7L961.6 841.7L961.6 844.6L964.2 844.6L964.2 846.8L982.5 846.8L982.5 849.4L987.7 849.4L987.7 851.7L995.5 851.7L995.5 854.5L1003.3 854.5L1003.3 857.3L1011.1 857.3L1011.1 859.6L1024.2 859.6L1024.2 861.8L1032.0 861.8L1032.0 863.8L1037.2 863.8L1037.2 866.0L1052.8 866.0L1052.8 868.2L1058.0 868.2L1058.0 870.7L1063.2 870.7L1063.2 873.2L1073.7 873.2L1073.7 875.7L1076.3 875.7L1076.3 878.4L1078.9 878.4L1078.9 881.3L1094.5 881.3L1094.5 883.6L1104.9 883.6L1104.9 885.7L1133.6 885.7L1133.6 888.0L1144.0 888.0L1144.0 890.3L1164.9 890.3L1164.9 892.8L1172.7 892.8L1172.7 895.4L1180.5 895.4L1180.5 897.6L1193.5 897.6L1193.5 900.1L1206.6 900.1L1206.6 902.2L1219.6 902.2L1219.6 904.3L1232.6 904.3L1232.6 906.5L1253.4 906.5L1253.4 910.0L1292.5 910.0L1292.5 912.1L1334.2 912.1L1334.2 914.3L1344.6 914.3L1344.6 916.5L1352.5 916.5L1352.5 918.7L1368.1 918.7L1368.1 921.4L1381.1 921.4L1381.1 924.0L1404.6 924.0L1404.6 926.3L1446.3 926.3L1446.3 929.3L1503.6 929.3L1503.6 931.7L1514.0 931.7L1514.0 933.5L1540.1 933.5L1540.1 935.6L1550.5 935.6L1550.5 937.9L1771.9 937.9L1771.9 944.3L1837.0 944.3L1837.0 944.3L1771.9 944.3L1771.9 943.8L1550.5 943.8L1550.5 943.0L1540.1 943.0L1540.1 942.1L1514.0 942.1L1514.0 941.2L1503.6 941.2L1503.6 940.0L1446.3 940.0L1446.3 938.3L1404.6 938.3L1404.6 936.9L1381.1 936.9L1381.1 935.3L1368.1 935.3L1368.1 933.5L1352.5 933.5L1352.5 932.1L1344.6 932.1L1344.6 930.6L1334.2 930.6L1334.2 929.1L1292.5 929.1L1292.5 927.6L1253.4 927.6L1253.4 925.1L1232.6 925.1L1232.6 923.5L1219.6 923.5L1219.6 922.0L1206.6 922.0L1206.6 920.4L1193.5 920.4L1193.5 918.5L1180.5 918.5L1180.5 916.9L1172.7 916.9L1172.7 914.9L1164.9 914.9L1164.9 912.9L1144.0 912.9L1144.0 911.2L1133.6 911.2L1133.6 909.4L1104.9 909.4L1104.9 907.8L1094.5 907.8L1094.5 905.9L1078.9 905.9L1078.9 903.6L1076.3 903.6L1076.3 901.5L1073.7 901.5L1073.7 899.4L1063.2 899.4L1063.2 897.4L1058.0 897.4L1058.0 895.3L1052.8 895.3L1052.8 893.5L1037.2 893.5L1037.2 891.8L1032.0 891.8L1032.0 890.1L1024.2 890.1L1024.2 888.3L1011.1 888.3L1011.1 886.3L1003.3 886.3L1003.3 884.0L995.5 884.0L995.5 881.7L987.7 881.7L987.7 879.8L982.5 879.8L982.5 877.5L964.2 877.5L964.2 875.7L961.6 875.7L961.6 873.2L956.4 873.2L956.4 871.3L946.0 871.3L946.0 869.6L930.4 869.6L930.4 867.6L922.6 867.6L922.6 865.2L919.9 865.2L919.9 862.8L917.3 862.8L917.3 860.4L912.1 860.4L912.1 857.9L904.3 857.9L904.3 855.9L896.5 855.9L896.5 854.1L891.3 854.1L891.3 851.9L883.5 851.9L883.5 849.9L875.7 849.9L875.7 847.6L867.8 847.6L867.8 845.2L860.0 845.2L860.0 843.1L854.8 843.1L854.8 840.6L847.0 840.6L847.0 838.8L841.8 838.8L841.8 837.0L836.6 837.0L836.6 835.1L828.8 835.1L828.8 833.3L823.5 833.3L823.5 830.8L818.3 830.8L818.3 828.4L813.1 828.4L813.1 825.9L807.9 825.9L807.9 823.5L802.7 823.5L802.7 820.9L800.1 820.9L800.1 815.7L794.9 815.7L794.9 813.1L789.7 813.1L789.7 811.0L787.1 811.0L787.1 809.0L784.5 809.0L784.5 806.3L779.2 806.3L779.2 804.5L774.0 804.5L774.0 802.2L766.2 802.2L766.2 800.2L753.2 800.2L753.2 798.4L750.6 798.4L750.6 796.6L748.0 796.6L748.0 793.6L742.8 793.6L742.8 791.0L737.6 791.0L737.6 789.1L729.7 789.1L729.7 786.6L727.1 786.6L727.1 783.2L721.9 783.2L721.9 780.3L716.7 780.3L716.7 777.8L711.5 777.8L711.5 775.5L708.9 775.5L708.9 770.3L706.3 770.3L706.3 768.2L703.7 768.2L703.7 766.1L701.1 766.1L701.1 764.4L698.5 764.4L698.5 761.9L693.3 761.9L693.3 759.6L688.1 759.6L688.1 757.7L682.8 757.7L682.8 755.6L672.4 755.6L672.4 753.3L667.2 753.0L667.2 750.0L662.0 749.8L662.0 747.5L659.4 747.4L659.4 745.0L656.8 745.0L656.8 742.6L654.2 742.5L654.2 739.9L646.4 739.7L646.4 737.8L641.2 737.7L641.2 735.6L635.9 735.5L635.9 733.0L630.7 732.8L630.7 730.3L625.5 730.2L625.5 727.7L620.3 727.5L620.3 725.1L617.7 725.0L617.7 722.5L615.1 722.4L615.1 719.9L612.5 719.8L612.5 717.6L609.9 717.6L609.9 715.3L607.3 715.3L607.3 713.1L604.7 713.0L604.7 709.8L599.5 709.6L599.5 707.1L594.3 707.0L594.3 704.0L589.0 703.8L589.0 700.7L583.8 700.5L583.8 697.7L576.0 697.6L576.0 695.4L570.8 695.3L570.8 693.3L568.2 693.2L568.2 691.2L565.6 691.1L565.6 689.1L563.0 689.0L563.0 685.8L550.0 685.6L550.0 683.2L544.8 683.1L544.8 680.8L536.9 680.6L536.9 678.4L531.7 678.3L531.7 676.4L529.1 676.3L529.1 674.4L526.5 674.3L526.5 672.4L523.9 672.4L523.9 670.2L521.3 670.1L521.3 667.9L518.7 667.9L518.7 665.6L516.1 665.6L516.1 663.3L513.5 663.3L513.5 661.3L510.9 661.3L510.9 659.4L508.3 659.3L508.3 657.4L505.7 657.3L505.7 655.4L503.1 655.4L503.1 653.4L500.5 653.4L500.5 651.5L497.9 651.4L497.9 649.5L495.2 649.4L495.2 647.4L492.6 647.3L492.6 645.1L490.0 645.0L490.0 642.8L487.4 642.7L487.4 640.5L484.8 640.4L484.8 636.2L482.2 636.2L482.2 630.4L479.6 630.3L479.6 626.5L477.0 626.5L477.0 623.8L469.2 623.7L469.2 621.3L464.0 621.2L464.0 618.2L458.8 618.2L458.8 616.3L456.2 616.3L456.2 614.3L453.6 614.3L453.6 611.3L448.4 611.2L448.4 608.3L443.1 608.3L443.1 605.7L437.9 605.6L437.9 602.5L435.3 602.4L435.3 600.2L432.7 600.1L432.7 596.7L427.5 596.6L427.5 594.1L424.9 594.0L424.9 591.4L422.3 591.4L422.3 588.3L417.1 588.2L417.1 586.2L414.5 586.2L414.5 584.0L411.9 583.9L411.9 581.7L409.3 581.7L409.3 579.6L406.7 579.5L406.7 576.1L401.5 576.0L401.5 573.4L398.8 573.3L398.8 569.4L396.2 569.4L396.2 566.1L393.6 566.1L393.6 563.5L391.0 563.5L391.0 560.9L388.4 560.8L388.4 557.2L385.8 557.2L385.8 553.0L383.2 553.0L383.2 548.0L378.0 547.9L378.0 545.0L372.8 544.9L372.8 542.7L370.2 542.7L370.2 540.5L367.6 540.5L367.6 537.9L365.0 537.9L365.0 530.0L362.4 530.0L362.4 526.0L359.8 526.0L359.8 524.1L357.2 524.1L357.2 522.2L354.6 522.2L354.6 519.9L351.9 519.9L351.9 516.7L349.3 516.7L349.3 513.5L346.7 513.5L346.7 510.4L344.1 510.4L344.1 507.3L341.5 507.3L341.5 504.2L338.9 504.2L338.9 500.5L336.3 500.5L336.3 496.8L333.7 496.8L333.7 492.5L331.1 492.5L331.1 487.9L328.5 487.9L328.5 486.0L325.9 486.0L325.9 483.8L320.7 483.8L320.7 474.7L318.1 474.7L318.1 471.4L315.5 471.4L315.5 468.3L312.9 468.3L312.9 465.1L310.3 465.1L310.3 460.9L307.7 460.9L307.7 456.6L305.0 456.6L305.0 453.6L302.4 453.6L302.4 451.0L299.8 451.0L299.8 447.7L297.2 447.7L297.2 443.3L294.6 443.3L294.6 438.0L292.0 438.0L292.0 432.8L289.4 432.8L289.4 428.8L286.8 428.8L286.8 424.8L284.2 424.8L284.2 420.9L281.6 420.9L281.6 416.9L279.0 416.9L279.0 413.2L276.4 413.2L276.4 409.5L273.8 409.5L273.8 405.6L271.2 405.6L271.2 401.6L268.6 401.6L268.6 397.6L266.0 397.6L266.0 393.6L263.4 393.6L263.4 390.2L260.8 390.2L260.8 386.9L258.1 386.9L258.1 383.3L255.5 383.3L255.5 378.8L252.9 378.8L252.9 373.4L250.3 373.4L250.3 368.1L247.7 368.1L247.7 364.0L245.1 364.0L245.1 359.6L242.5 359.6L242.5 351.6L239.9 351.6L239.9 341.5L237.3 341.5L237.3 333.0L234.7 333.0L234.7 326.4L232.1 326.4L232.1 323.1L229.5 323.1L229.5 317.2L226.9 317.2L226.9 309.8L224.3 309.8L224.3 302.4L221.7 302.4L221.7 293.6L219.1 293.6L219.1 284.1L216.5 284.1L216.5 275.7L213.9 275.7L213.9 268.6L211.2 268.6L211.2 260.6L208.6 260.6L208.6 250.9L206.0 250.9L206.0 240.5L203.4 240.5L203.4 230.1L200.8 230.1L200.8 221.7L198.2 221.7L198.2 212.6L195.6 212.6L195.6 196.3L193.0 196.3L193.0 179.5L190.4 179.5L190.4 166.0L187.8 166.0Z" fill="#00796B" fill-opacity="0.08" stroke="#00796B" stroke-opacity="0.1" stroke-width="1"/>
<path d="M187.8 166.3L191.7 166.3L191.7 233.2L196.9 233.2L196.9 245.6L200.3 245.6L200.3 267.9L205.6 267.9L205.6 292.8L210.5 292.8L210.5 303.9L221.4 303.9L221.4 351.1L223.9 351.1L223.9 363.5L226.7 363.5L226.7 374.6L229.1 374.6L229.1 387.0L234.1 387.0L234.1 399.5L234.9 400.0L237.4 400.0L237.4 411.2L244.3 411.2L244.3 423.0L247.4 423.0L247.4 457.9L250.5 457.9L250.5 469.7L252.7 469.7L252.7 505.8L260.5 505.8L260.5 517.7L263.6 517.7L263.5 541.4L266.0 541.4L266.0 576.2L268.5 576.2L268.5 589.3L281.6 589.3L281.6 600.5L286.6 600.5L286.6 612.9L294.5 612.9L294.2 623.7L296.7 623.7L296.7 636.1L299.1 636.1L299.1 648.5L315.8 648.5L315.8 659.7L320.2 659.7L320.2 672.1L325.2 672.1L325.2 684.5L328.2 684.5L328.2 695.7L336.4 695.7L336.4 708.1L343.1 708.1L343.1 719.3L346.3 719.3L346.3 731.2L349.3 731.2L349.3 742.8L364.6 742.8L364.6 755.2L380.8 755.2L380.8 767.1L390.7 767.1L390.7 778.8L401.4 778.8L401.4 791.2L403.8 791.2L403.8 803.6L416.7 803.6L416.7 814.8L419.5 814.8L419.5 826.0L432.4 826.0L432.4 838.4L448.5 838.4L448.5 850.3L479.5 850.3L479.5 861.9L628.4 861.9L628.5 861.7L628.5 874.1L657.1 874.1L657.1 886.6L669.5 886.6L669.5 897.7L742.7 897.7L742.7 909.6L787.8 909.6L787.8 921.3L871.0 921.3L871.0 933.0L1264.1 933.0L1264.1 946.0" fill="none" stroke="#C62828" stroke-width="4.65" stroke-linejoin="round" stroke-linecap="square"/>
<path d="M188.7 174.9L188.7 182.3L191.7 182.3L191.7 197.2L194.1 197.2L194.1 209.6L197.4 209.6L197.4 215.8L202.8 215.8L202.8 232.0L206.8 232.0L206.8 259.3L211.0 259.3L211.0 266.7L217.2 266.7L217.2 284.1L222.2 284.1L224.3 288.5L224.3 295.6L226.9 295.6L226.9 302.6L229.5 302.6L229.5 308.4L232.1 308.4L232.1 311.5L237.0 311.5L237.0 316.0L240.0 316.0L240.0 322.0L243.0 322.0L243.0 329.0L246.0 329.0L246.0 334.0L250.0 334.0L250.0 339.0L254.4 339.0L254.4 343.6L259.4 343.6L259.4 344.9L264.4 344.9L264.4 356.0L268.1 356.0L268.1 362.2L275.5 362.2L275.5 368.4L280.5 368.4L280.5 375.9L285.5 375.9L285.5 387.0L289.2 387.0L289.2 397.0L294.1 397.0L294.1 405.7L300.3 405.7L300.3 411.9L304.0 411.9L304.0 430.0L306.9 437.2L306.9 453.3L310.6 453.3L310.6 460.8L315.6 460.8L315.6 470.7L323.1 470.7L323.1 479.4L326.8 479.4L326.8 485.6L330.5 485.6L330.5 494.3L341.7 494.3L341.7 501.7L345.4 501.7L345.4 507.9L354.1 507.9L354.1 513.6L364.0 513.6L364.0 520.3L378.9 520.3L378.9 524.1L388.8 524.1L388.8 536.5L402.5 536.5L402.5 541.4L407.4 541.4L407.4 546.4L413.6 546.4L413.6 558.8L426.0 568.7L437.2 583.6L437.2 592.3L440.9 592.3L440.9 602.2L449.6 602.2L449.6 610.9L454.6 610.9L454.6 617.1L460.8 617.1L460.8 620.8L474.4 620.8L474.4 625.8L478.1 625.8L478.1 644.4L489.9 645.2L489.9 657.6L497.4 657.6L497.4 665.0L501.1 665.0L501.1 670.7L504.8 670.7L504.8 687.3L514.7 687.3L514.7 693.5L536.6 693.5L536.6 699.3L547.0 699.3L547.0 706.7L550.7 706.7L550.7 711.7L556.9 711.7L556.9 716.6L565.6 716.6L565.6 722.8L570.6 722.8L570.6 729.0L583.0 729.0L583.0 735.2L586.7 735.2L586.7 741.4L609.0 741.4L609.0 747.1L620.9 747.1L620.9 755.1L623.9 755.1L623.9 763.8L628.9 763.8L628.9 770.7L635.1 770.7L635.1 783.6L674.8 783.6L674.8 789.3L698.4 789.3L698.4 794.8L703.3 794.8L703.3 801.0L740.5 801.0L740.5 806.7L753.0 806.7L753.0 812.9L781.5 812.9L781.5 819.6L785.2 819.6L785.2 825.3L831.1 825.3L831.1 831.3L859.7 831.3L859.7 837.7L899.4 837.7L899.4 844.4L924.2 844.4L924.2 855.6L939.1 855.6L956.1 856.3L956.1 867.9L959.4 867.9L959.4 879.6L977.2 879.6L977.2 885.3L1052.9 885.3L1052.9 891.5L1072.8 891.5L1072.8 897.2L1088.9 897.2L1088.9 903.4L1117.4 903.4L1117.4 908.9L1236.5 908.9L1236.5 921.8L1307.2 921.8L1307.2 920.8L1345.7 920.8L1345.7 927.5L1404.0 927.5L1404.0 933.0L1405.0 927.9L1405.0 932.8L1460.8 932.8L1460.8 938.1L1470.0 938.1" fill="none" stroke="#FF6B6B" stroke-width="4.65" stroke-linejoin="round" stroke-linecap="square"/>
<path d="M191.2 172.8L193.0 172.8L193.0 181.2L195.6 181.2L195.6 189.0L198.2 189.0L198.2 196.1L200.8 196.1L200.8 203.0L203.4 203.0L203.4 210.0L206.0 210.0L206.0 218.3L208.6 218.3L208.6 226.6L211.2 226.6L211.2 233.1L213.9 233.1L213.9 238.3L216.5 238.3L216.5 246.2L219.1 246.2L219.1 255.3L221.7 255.3L221.7 263.4L224.3 263.4L224.3 271.2L226.9 271.2L226.9 280.4L229.5 280.4L229.5 289.8L232.1 289.8L232.1 297.6L234.7 297.6L234.7 303.9L237.3 303.9L237.3 309.8L239.9 309.8L239.9 313.2L242.5 313.2L242.5 316.6L245.1 316.6L245.1 326.9L247.7 326.9L247.7 335.8L250.3 335.8L250.3 344.1L252.9 344.1L252.9 351.6L255.5 351.6L255.5 357.9L258.1 357.9L258.1 364.1L260.8 364.1L260.8 368.3L263.4 368.3L263.4 372.4L266.0 372.4L266.0 376.8L268.6 376.8L268.6 381.3L271.2 381.3L271.2 385.7L273.8 385.7L273.8 390.4L276.4 390.4L276.4 395.6L279.0 395.6L279.0 400.9L281.6 400.9L281.6 405.1L284.2 405.1L284.2 410.9L289.4 410.9L289.4 413.1L294.6 413.1L294.6 415.3L299.8 415.3L299.8 417.6L305.0 417.6L305.0 421.4L307.7 421.4L307.7 425.0L310.3 425.0L310.3 432.0L312.9 432.0L312.9 440.4L315.5 440.4L315.5 460.7L318.1 460.7L318.1 464.8L320.7 464.8L320.7 468.9L323.3 468.9L323.3 472.8L325.9 472.8L325.9 475.4L328.5 475.4L328.5 477.9L331.1 477.9L331.1 480.1L333.7 480.1L333.7 482.3L336.3 482.3L336.3 485.5L338.9 485.5L338.9 490.7L341.5 490.7L341.5 495.9L344.1 495.9L344.1 499.6L346.7 499.6L346.7 503.3L349.3 503.3L349.3 506.3L351.9 506.3L351.9 508.9L357.2 508.9L357.2 511.2L362.4 511.2L362.4 515.5L365.0 515.5L365.0 519.4L367.6 519.4L367.6 523.3L370.2 523.3L370.2 527.1L375.4 527.1L375.4 530.3L380.6 530.3L380.6 533.4L385.8 533.4L385.8 536.3L391.0 536.3L391.0 539.2L396.2 539.2L396.2 542.0L398.8 542.0L398.8 544.4L401.5 544.4L401.5 546.7L404.1 546.7L404.1 549.0L406.7 549.0L406.7 551.3L411.9 551.3L411.9 554.2L417.1 554.2L417.1 556.8L419.7 556.8L419.7 559.9L422.3 559.9L422.3 563.2L424.9 563.2L424.9 566.4L427.5 566.4L427.5 569.7L430.1 569.7L430.1 572.9L432.7 572.9L432.7 576.2L435.3 576.2L435.3 579.4L437.9 579.4L437.9 582.8L440.5 582.8L440.5 586.4L443.1 586.4L443.1 590.0L445.7 590.0L445.7 593.5L448.4 593.5L448.4 596.1L453.6 596.1L453.6 599.4L456.2 599.4L456.2 602.0L458.8 602.0L458.8 604.6L464.0 604.6L464.0 607.5L469.2 607.5L469.2 610.1L471.8 610.1L471.8 616.8L479.6 616.8L479.6 619.4L482.2 619.4L482.2 624.0L484.8 624.0L484.8 628.3L487.4 628.3L487.4 631.5L490.0 631.5L490.0 637.8L500.5 637.8L500.5 645.2L513.5 645.2L513.5 651.4L534.3 651.4L534.3 653.9L547.4 653.9L547.4 656.4L550.0 656.4L550.0 660.3L552.6 660.3L552.6 664.2L555.2 664.2L555.2 670.2L573.4 670.2L573.4 672.3L578.6 672.3L578.6 674.6L581.2 674.6L581.2 677.9L583.8 677.9L583.8 680.7L586.4 680.7L586.4 682.6L589.0 682.6L589.0 684.6L591.7 684.6L591.7 686.5L596.9 686.5L596.9 689.0L602.1 689.0L602.1 691.1L607.3 691.1L607.3 698.5L609.9 698.5L609.9 700.9L615.1 700.9L615.1 703.5L620.3 703.5L620.3 714.7L628.1 714.7L628.1 722.2L641.2 722.2L641.2 726.7L643.8 726.7L643.8 729.6L646.4 729.6L646.4 732.3L649.0 732.3L649.0 735.5L651.6 735.5L651.6 742.5L654.2 742.5L654.2 745.8L656.8 745.8L656.8 748.2L669.8 748.2L669.8 758.8L672.4 758.8L672.4 761.9L677.6 761.9L677.6 769.3L682.8 769.3L682.8 771.7L685.5 771.7L685.5 778.0L706.3 778.0L706.3 781.7L737.6 781.7L737.6 785.4L745.4 785.4L745.4 789.1L763.6 789.1L763.6 792.0L768.8 792.0L768.8 795.2L787.1 795.2L787.1 799.1L823.5 799.1L823.5 805.3L831.4 805.3L831.4 811.5L844.4 811.5L844.4 813.7L865.2 813.7L865.2 816.9L867.8 816.9L867.8 818.9L880.9 818.9L880.9 826.4L899.1 826.4L899.1 828.5L904.3 828.5L904.3 832.6L912.1 832.6L912.1 835.2L917.3 835.2L917.3 837.0L922.6 837.0L922.6 839.0L927.8 839.0L927.8 847.3L940.8 847.3L940.8 854.1L948.6 854.1L948.6 856.1L956.4 856.1L956.4 858.0L964.2 858.0L964.2 860.0L974.7 860.0L974.7 862.0L985.1 862.0L985.1 864.0L995.5 864.0L995.5 866.0L1003.3 866.0L1003.3 868.1L1011.1 868.1L1011.1 870.3L1019.0 870.3L1019.0 872.7L1024.2 872.7L1024.2 875.6L1029.4 875.6L1029.4 878.5L1034.6 878.5L1034.6 881.4L1039.8 881.4L1039.8 884.3L1045.0 884.3L1045.0 886.2L1052.8 886.2L1052.8 888.4L1063.2 888.4L1063.2 890.5L1073.7 890.5L1073.7 892.9L1076.3 892.9L1076.3 895.1L1078.9 895.1L1078.9 897.2L1084.1 897.2L1084.1 899.3L1091.9 899.3L1091.9 901.3L1107.5 901.3L1107.5 912.7L1136.2 912.7L1136.2 915.2L1138.8 915.2L1138.8 917.2L1144.0 917.2L1144.0 919.3L1146.6 919.3L1146.6 923.1L1177.9 923.1L1177.9 925.1L1214.4 925.1L1214.4 933.0L1282.1 933.0L1282.1 935.4L1349.9 935.4L1349.9 937.2L1388.9 937.2L1388.9 938.7L1399.4 938.7L1399.4 940.3L1443.7 940.3L1443.7 942.8L1555.8 942.8" fill="none" stroke="#FBB733" stroke-width="4.65" stroke-linejoin="round" stroke-linecap="square"/>
<path d="M191.2 170.6L193.0 170.6L193.0 174.2L195.6 174.2L195.6 179.7L198.2 179.7L198.2 187.0L200.8 187.0L200.8 195.5L203.4 195.5L203.4 205.3L206.0 205.3L206.0 216.6L208.6 216.6L208.6 227.9L211.2 227.9L211.2 236.6L213.9 236.6L213.9 243.6L216.5 243.6L216.5 250.5L219.1 250.5L219.1 258.7L221.7 258.7L221.7 266.6L224.3 266.6L224.3 272.7L226.9 272.7L226.9 279.5L229.5 279.5L229.5 288.6L232.1 288.6L232.1 296.6L234.7 296.6L234.7 300.8L237.3 300.8L237.3 306.8L239.9 306.8L239.9 315.3L242.5 315.3L242.5 320.6L245.1 320.6L245.1 325.8L247.7 325.8L247.7 330.9L250.3 330.9L250.3 336.8L252.9 336.8L252.9 342.9L255.5 342.9L255.5 349.0L258.1 349.0L258.1 352.2L260.8 352.2L260.8 355.3L263.4 355.3L263.4 359.7L266.0 359.7L266.0 364.9L268.6 364.9L268.6 370.1L271.2 370.1L271.2 375.3L273.8 375.3L273.8 380.5L276.4 380.5L276.4 385.7L279.0 385.7L279.0 389.6L281.6 389.6L281.6 393.2L284.2 393.2L284.2 396.6L286.8 396.6L286.8 399.7L289.4 399.7L289.4 402.9L292.0 402.9L292.0 406.1L294.6 406.1L294.6 409.2L297.2 409.2L297.2 411.9L299.8 411.9L299.8 414.5L302.4 414.5L302.4 425.9L305.0 425.9L305.0 430.2L307.7 430.2L307.7 434.6L310.3 434.6L310.3 438.9L312.9 438.9L312.9 443.2L315.5 443.2L315.5 447.6L318.1 447.6L318.1 452.3L320.7 452.3L320.7 457.1L323.3 457.1L323.3 461.7L325.9 461.7L325.9 464.3L328.5 464.3L328.5 467.0L331.1 467.0L331.1 470.4L333.7 470.4L333.7 473.7L336.3 473.7L336.3 477.1L338.9 477.1L338.9 480.1L341.5 480.1L341.5 483.1L344.1 483.1L344.1 486.0L346.7 486.0L346.7 488.3L351.9 488.3L351.9 491.6L357.2 491.6L357.2 495.0L359.8 495.0L359.8 496.8L362.4 496.8L362.4 498.7L365.0 498.7L365.0 501.6L367.6 501.6L367.6 505.9L370.2 505.9L370.2 510.2L372.8 510.2L372.8 513.9L375.4 513.9L375.4 517.0L378.0 517.0L378.0 520.2L380.6 520.2L380.6 523.7L383.2 523.7L383.2 527.2L385.8 527.2L385.8 530.7L388.4 530.7L388.4 534.1L391.0 534.1L391.0 537.6L393.6 537.6L393.6 540.9L396.2 540.9L396.2 543.9L398.8 543.9L398.8 547.0L401.5 547.0L401.5 548.8L406.7 548.8L406.7 550.9L411.9 550.9L411.9 553.0L414.5 553.0L414.5 555.7L417.1 555.7L417.1 558.7L419.7 558.7L419.7 561.8L422.3 561.8L422.3 564.4L424.9 564.4L424.9 567.0L427.5 567.0L427.5 569.5L430.1 569.5L430.1 571.6L432.7 571.6L432.7 573.7L435.3 573.7L435.3 575.8L437.9 575.8L437.9 577.9L440.5 577.9L440.5 579.8L445.7 579.8L445.7 583.3L451.0 583.3L451.0 586.6L456.2 586.6L456.2 589.9L458.8 589.9L458.8 591.7L461.4 591.7L461.4 593.7L464.0 593.7L464.0 595.6L466.6 595.6L466.6 597.6L471.8 597.6L471.8 599.8L477.0 599.8L477.0 601.9L479.6 601.9L479.6 608.6L484.8 608.6L484.8 611.8L490.0 611.8L490.0 615.3L492.6 615.3L492.6 617.2L495.2 617.2L495.2 619.2L497.9 619.2L497.9 621.1L505.7 621.1L505.7 623.7L508.3 623.7L508.3 625.6L510.9 625.6L510.9 629.2L513.5 629.2L513.5 632.8L518.7 632.8L518.7 635.8L523.9 635.8L523.9 639.3L526.5 639.3L526.5 641.6L529.1 641.6L529.1 643.9L531.7 643.9L531.7 646.2L534.3 646.2L534.3 653.3L542.1 653.3L542.1 655.6L550.0 655.6L550.0 658.0L555.2 658.0L555.2 659.9L557.8 659.9L557.8 663.7L560.4 663.7L560.4 668.1L563.0 668.1L563.0 672.4L565.6 672.4L565.6 674.7L568.2 674.7L568.2 676.9L570.8 676.9L570.8 679.2L573.4 679.2L573.4 681.6L576.0 681.6L576.0 684.2L578.6 684.2L578.6 686.5L583.8 686.5L583.8 689.1L586.4 689.1L586.4 691.3L589.0 691.3L589.0 694.8L596.9 694.8L596.9 696.6L602.1 696.6L602.1 699.7L604.7 699.7L604.7 702.7L609.9 702.7L609.9 705.7L615.1 705.7L615.1 708.5L625.5 708.5L625.5 710.4L633.3 710.4L633.3 712.4L635.9 712.4L635.9 716.9L638.6 716.9L638.6 720.2L643.8 720.2L643.8 722.8L649.0 722.8L649.0 725.2L654.2 725.2L654.2 727.2L659.4 727.2L659.4 730.4L662.0 730.4L662.0 733.0L664.6 733.0L664.6 735.1L669.8 735.1L669.8 737.7L675.0 737.7L675.0 740.7L680.2 740.7L680.2 743.5L685.5 743.5L685.5 746.1L690.7 746.1L690.7 749.3L695.9 749.3L695.9 752.8L701.1 752.8L701.1 756.3L706.3 756.3L706.3 758.3L711.5 758.3L711.5 760.3L716.7 760.3L716.7 762.6L721.9 762.6L721.9 764.9L727.1 764.9L727.1 767.2L732.3 767.2L732.3 769.8L735.0 769.8L735.0 772.5L737.6 772.5L737.6 774.8L742.8 774.8L742.8 778.3L748.0 778.3L748.0 781.1L753.2 781.1L753.2 784.0L758.4 784.0L758.4 787.4L763.6 787.4L763.6 789.8L781.9 789.8L781.9 791.9L787.1 791.9L787.1 795.4L792.3 795.4L792.3 798.1L797.5 798.1L797.5 800.3L802.7 800.3L802.7 802.5L807.9 802.5L807.9 804.4L818.3 804.4L818.3 806.5L823.5 806.5L823.5 809.0L831.4 809.0L831.4 811.3L841.8 811.3L841.8 814.0L847.0 814.0L847.0 815.9L852.2 815.9L852.2 818.3L857.4 818.3L857.4 820.9L862.6 820.9L862.6 823.0L867.8 823.0L867.8 825.0L873.0 825.0L873.0 827.5L878.3 827.5L878.3 829.6L886.1 829.6L886.1 832.0L896.5 832.0L896.5 834.2L912.1 834.2L912.1 836.2L917.3 836.2L917.3 838.5L922.6 838.5L922.6 841.1L927.8 841.1L927.8 843.7L933.0 843.7L933.0 846.3L943.4 846.3L943.4 848.8L951.2 848.8L951.2 851.2L961.6 851.2L961.6 853.4L969.5 853.4L969.5 857.3L977.3 857.3L977.3 859.2L985.1 859.2L985.1 861.5L987.7 861.5L987.7 864.1L992.9 864.1L992.9 866.3L1000.7 866.3L1000.7 868.9L1008.5 868.9L1008.5 871.5L1021.6 871.5L1021.6 873.4L1034.6 873.4L1034.6 875.9L1037.2 875.9L1037.2 877.9L1042.4 877.9L1042.4 879.8L1050.2 879.8L1050.2 882.1L1058.0 882.1L1058.0 884.5L1065.9 884.5L1065.9 887.0L1071.1 887.0L1071.1 888.8L1076.3 888.8L1076.3 890.6L1081.5 890.6L1081.5 892.4L1086.7 892.4L1086.7 894.2L1094.5 894.2L1094.5 896.2L1102.3 896.2L1102.3 898.0L1110.1 898.0L1110.1 899.8L1118.0 899.8L1118.0 901.6L1128.4 901.6L1128.4 903.6L1146.6 903.6L1146.6 905.4L1164.9 905.4L1164.9 907.3L1183.1 907.3L1183.1 909.2L1206.6 909.2L1206.6 911.1L1227.4 911.1L1227.4 913.0L1235.2 913.0L1235.2 915.4L1243.0 915.4L1243.0 917.8L1250.8 917.8L1250.8 920.2L1258.7 920.2L1258.7 922.2L1271.7 922.2L1271.7 924.0L1300.3 924.0L1300.3 926.1L1310.8 926.1L1310.8 928.6L1316.0 928.6L1316.0 930.6L1336.8 930.6L1336.8 932.4L1360.3 932.4L1360.3 934.2L1370.7 934.2L1370.7 936.3L1383.7 936.3L1383.7 938.5L1454.1 938.5L1454.1 939.8L1487.9 939.8L1487.9 941.1L1521.8 941.1L1521.8 942.4L1705.0 942.4" fill="none" stroke="#66BB6A" stroke-width="4.65" stroke-linejoin="round" stroke-linecap="square"/>
<path d="M187.8 166.3L190.4 166.3L190.4 174.7L193.0 174.7L193.0 189.2L195.6 189.2L195.6 203.9L198.2 203.9L198.2 212.2L200.8 212.2L200.8 220.0L203.4 220.0L203.4 229.7L206.0 229.7L206.0 239.5L208.6 239.5L208.6 248.6L211.2 248.6L211.2 256.2L213.9 256.2L213.9 263.0L216.5 263.0L216.5 270.9L219.1 270.9L219.1 280.0L221.7 280.0L221.7 288.5L224.3 288.5L224.3 295.6L226.9 295.6L226.9 302.6L229.5 302.6L229.5 308.4L232.1 308.4L232.1 311.5L234.7 311.5L234.7 318.0L237.3 318.0L237.3 326.1L239.9 326.1L239.9 335.9L242.5 335.9L242.5 343.7L245.1 343.7L245.1 348.0L247.7 348.0L247.7 352.0L250.3 352.0L250.3 357.2L252.9 357.2L252.9 362.4L255.5 362.4L255.5 366.8L258.1 366.8L258.1 370.3L260.8 370.3L260.8 373.6L263.4 373.6L263.4 376.9L266.0 376.9L266.0 380.8L268.6 380.8L268.6 384.7L271.2 384.7L271.2 388.6L273.8 388.6L273.8 392.4L276.4 392.4L276.4 396.1L279.0 396.1L279.0 399.8L281.6 399.8L281.6 403.6L284.2 403.6L284.2 407.5L286.8 407.5L286.8 411.4L289.4 411.4L289.4 415.3L292.0 415.3L292.0 420.5L294.6 420.5L294.6 425.7L297.2 425.7L297.2 430.0L299.8 430.0L299.8 433.2L302.4 433.2L302.4 435.8L305.0 435.8L305.0 438.9L307.7 438.9L307.7 443.0L310.3 443.0L310.3 447.2L312.9 447.2L312.9 450.4L315.5 450.4L315.5 453.4L318.1 453.4L318.1 456.7L320.7 456.7L320.7 465.7L325.9 465.7L325.9 467.9L328.5 467.9L328.5 469.8L331.1 469.8L331.1 474.3L333.7 474.3L333.7 478.6L336.3 478.6L336.3 482.2L338.9 482.2L338.9 485.9L341.5 485.9L341.5 489.0L344.1 489.0L344.1 492.0L346.7 492.0L346.7 495.1L349.3 495.1L349.3 498.2L351.9 498.2L351.9 501.3L354.6 501.3L354.6 503.6L357.2 503.6L357.2 505.4L359.8 505.4L359.8 507.3L362.4 507.3L362.4 511.3L365.0 511.3L365.0 519.1L367.6 519.1L367.6 521.7L370.2 521.7L370.2 523.8L372.8 523.8L372.8 526.0L378.0 526.0L378.0 528.9L383.2 528.9L383.2 533.9L385.8 533.9L385.8 538.1L388.4 538.1L388.4 541.7L391.0 541.7L391.0 544.3L393.6 544.3L393.6 546.9L396.2 546.9L396.2 550.1L398.8 550.1L398.8 554.0L401.5 554.0L401.5 556.7L406.7 556.7L406.7 560.1L409.3 560.1L409.3 562.2L411.9 562.2L411.9 564.5L414.5 564.5L414.5 566.7L417.1 566.7L417.1 568.7L422.3 568.7L422.3 571.8L424.9 571.8L424.9 574.4L427.5 574.4L427.5 576.9L432.7 576.9L432.7 580.4L435.3 580.4L435.3 582.7L437.9 582.7L437.9 585.8L443.1 585.8L443.1 588.4L448.4 588.4L448.4 591.3L453.6 591.3L453.6 594.3L456.2 594.3L456.2 596.3L458.8 596.3L458.8 598.1L464.0 598.1L464.0 601.1L469.2 601.1L469.2 603.5L477.0 603.5L477.0 606.2L479.6 606.2L479.6 610.1L482.2 610.1L482.2 615.9L484.8 615.9L484.8 620.2L487.4 620.2L487.4 622.5L490.0 622.5L490.0 624.8L492.6 624.8L492.6 627.0L495.2 627.0L495.2 629.1L497.9 629.1L497.9 631.1L500.5 631.1L500.5 633.0L503.1 633.0L503.1 635.0L505.7 635.0L505.7 636.9L508.3 636.9L508.3 638.9L510.9 638.9L510.9 640.8L513.5 640.8L513.5 642.8L516.1 642.8L516.1 645.1L518.7 645.1L518.7 647.4L521.3 647.4L521.3 649.6L523.9 649.6L523.9 651.8L526.5 651.8L526.5 653.8L529.1 653.8L529.1 655.7L531.7 655.7L531.7 657.7L536.9 657.7L536.9 660.0L544.8 660.0L544.8 662.3L550.0 662.3L550.0 664.7L563.0 664.7L563.0 668.0L565.6 668.0L565.6 670.1L568.2 670.1L568.2 672.2L570.8 672.2L570.8 674.3L576.0 674.3L576.0 676.4L583.8 676.4L583.8 679.3L589.0 679.3L589.0 682.6L594.3 682.6L594.3 685.6L599.5 685.6L599.5 688.2L604.7 688.2L604.7 691.6L607.3 691.6L607.3 693.8L609.9 693.8L609.9 696.1L612.5 696.1L612.5 698.4L615.1 698.4L615.1 701.0L617.7 701.0L617.7 703.6L620.3 703.6L620.3 706.1L625.5 706.1L625.5 708.7L630.7 708.7L630.7 711.3L635.9 711.3L635.9 713.9L641.2 713.9L641.2 716.1L646.4 716.1L646.4 718.0L654.2 718.0L654.2 720.7L656.8 720.7L656.8 723.1L659.4 723.1L659.4 725.6L662.0 725.6L662.0 728.1L667.2 728.1L667.2 731.1L672.4 731.1L672.4 733.5L682.8 733.5L682.8 735.7L688.1 735.7L688.1 737.7L693.3 737.7L693.3 740.1L698.5 740.1L698.5 742.7L701.1 742.7L701.1 744.5L703.7 744.5L703.7 746.7L706.3 746.7L706.3 748.9L708.9 748.9L708.9 754.2L711.5 754.2L711.5 756.7L716.7 756.7L716.7 759.3L721.9 759.3L721.9 762.3L727.1 762.3L727.1 765.9L729.7 765.9L729.7 768.5L737.6 768.5L737.6 770.5L742.8 770.5L742.8 773.3L748.0 773.3L748.0 776.4L750.6 776.4L750.6 778.3L753.2 778.3L753.2 780.1L766.2 780.1L766.2 782.3L774.0 782.3L774.0 784.7L779.2 784.7L779.2 786.6L784.5 786.6L784.5 789.4L787.1 789.4L787.1 791.6L789.7 791.6L789.7 793.7L794.9 793.7L794.9 796.5L800.1 796.5L800.1 802.1L802.7 802.1L802.7 804.7L807.9 804.7L807.9 807.4L813.1 807.4L813.1 810.0L818.3 810.0L818.3 812.6L823.5 812.6L823.5 815.2L828.8 815.2L828.8 817.1L836.6 817.1L836.6 819.1L841.8 819.1L841.8 821.1L847.0 821.1L847.0 823.0L854.8 823.0L854.8 825.7L860.0 825.7L860.0 828.0L867.8 828.0L867.8 830.5L875.7 830.5L875.7 833.0L883.5 833.0L883.5 835.1L891.3 835.1L891.3 837.5L896.5 837.5L896.5 839.4L904.3 839.4L904.3 841.6L912.1 841.6L912.1 844.3L917.3 844.3L917.3 846.9L919.9 846.9L919.9 849.5L922.6 849.5L922.6 852.1L930.4 852.1L930.4 854.3L946.0 854.3L946.0 856.2L956.4 856.2L956.4 858.2L961.6 858.2L961.6 860.9L964.2 860.9L964.2 862.9L982.5 862.9L982.5 865.4L987.7 865.4L987.7 867.5L995.5 867.5L995.5 870.1L1003.3 870.1L1003.3 872.7L1011.1 872.7L1011.1 874.8L1024.2 874.8L1024.2 876.8L1032.0 876.8L1032.0 878.7L1037.2 878.7L1037.2 880.6L1052.8 880.6L1052.8 882.6L1058.0 882.6L1058.0 885.0L1063.2 885.0L1063.2 887.2L1073.7 887.2L1073.7 889.5L1076.3 889.5L1076.3 891.9L1078.9 891.9L1078.9 894.5L1094.5 894.5L1094.5 896.7L1104.9 896.7L1104.9 898.5L1133.6 898.5L1133.6 900.6L1144.0 900.6L1144.0 902.6L1164.9 902.6L1164.9 904.8L1172.7 904.8L1172.7 907.1L1180.5 907.1L1180.5 909.1L1193.5 909.1L1193.5 911.3L1206.6 911.3L1206.6 913.1L1219.6 913.1L1219.6 915.0L1232.6 915.0L1232.6 916.9L1253.4 916.9L1253.4 919.9L1292.5 919.9L1292.5 921.7L1334.2 921.7L1334.2 923.6L1344.6 923.6L1344.6 925.4L1352.5 925.4L1352.5 927.2L1368.1 927.2L1368.1 929.6L1381.1 929.6L1381.1 931.7L1404.6 931.7L1404.6 933.5L1446.3 933.5L1446.3 935.9L1503.6 935.9L1503.6 937.7L1514.0 937.7L1514.0 939.1L1540.1 939.1L1540.1 940.7L1550.5 940.7L1550.5 942.2L1771.9 942.2L1771.9 944.3L1837.0 944.3" fill="none" stroke="#00796B" stroke-width="4.65" stroke-linejoin="round" stroke-linecap="square"/>
</g>
<path d="M104 556H1920" stroke="#b5b5b5" stroke-width="2.08" stroke-dasharray="7.71 3.33" fill="none"/>
<text class="tk" x="187.8" y="969.8" text-anchor="middle">0</text>
<text class="tk" x="448.4" y="969.8" text-anchor="middle">100</text>
<text class="tk" x="708.9" y="969.8" text-anchor="middle">200</text>
<text class="tk" x="969.5" y="969.8" text-anchor="middle">300</text>
<text class="tk" x="1230.0" y="969.8" text-anchor="middle">400</text>
<text class="tk" x="1490.5" y="969.8" text-anchor="middle">500</text>
<text class="tk" x="1751.1" y="969.8" text-anchor="middle">600</text>
<text class="tk" x="97.2" y="954.6" text-anchor="end">0.0</text>
<text class="tk" x="97.2" y="798.6" text-anchor="end">0.2</text>
<text class="tk" x="97.2" y="642.7" text-anchor="end">0.4</text>
<text class="tk" x="97.2" y="486.7" text-anchor="end">0.6</text>
<text class="tk" x="97.2" y="330.8" text-anchor="end">0.8</text>
<text class="tk" x="97.2" y="174.8" text-anchor="end">1.0</text>
<text class="t" font-size="32.58" x="1011.9" y="50.1">TỶ LỆ GIỮ CHÂN KHÁCH HÀNG THEO ĐIỂM ĐÁNH GIÁ</text>
<text class="t" font-size="32.54" x="1012.4" y="97.9">ĐƯỜNG CONG SINH TỒN KAPLAN-MEIER — TRẢI NGHIỆM TỒI TỆ</text>
<text class="t" font-size="32.29" x="1010.6" y="136.6">CÓ LÀM KHÁCH HÀNG RỜI BỎ?</text>
<text class="al" x="1012.0" y="1014.4">Số ngày kể từ lần mua đầu tiên</text>
<text class="al" transform="translate(37.4 556.1) rotate(-90)">Xác suất không rời bỏ (Survival Probability)</text>
<rect x="1524.7" y="177.3" width="384" height="196.4" rx="4.2" fill="#fff" fill-opacity="0.9" stroke="#d4d4d4" stroke-width="2"/>
<path d="M1531.1 196.3H1579.7" stroke="#C62828" stroke-width="4.9"/>
<text class="lg" x="1592.8" y="203.2" xml:space="preserve">1 sao (tệ nhất)  (n=10,815)</text>
<path d="M1531.1 226.4H1579.7" stroke="#FF6B6B" stroke-width="4.9"/>
<text class="lg" x="1592.8" y="233.3" xml:space="preserve">2 sao  (n=3,138)</text>
<path d="M1531.1 259.4H1579.7" stroke="#FBB733" stroke-width="4.9"/>
<text class="lg" x="1592.8" y="266.5" xml:space="preserve">3 sao (trung lập)  (n=7,938)</text>
<path d="M1531.1 290.3H1579.7" stroke="#66BB6A" stroke-width="4.9"/>
<text class="lg" x="1592.8" y="296.6" xml:space="preserve">4 sao  (n=18,843)</text>
<path d="M1531.1 322.5H1579.7" stroke="#00796B" stroke-width="4.9"/>
<text class="lg" x="1592.8" y="328.7" xml:space="preserve">5 sao (tốt nhất)  (n=54,646)</text>
<path d="M1532.5 353.8H1575" stroke="#b5b5b5" stroke-width="2.08" stroke-dasharray="7.71 3.33"/>
<text class="lg" x="1592.8" y="361.9">Ngưỡng duy trì 50%</text>
</svg></body></html>
